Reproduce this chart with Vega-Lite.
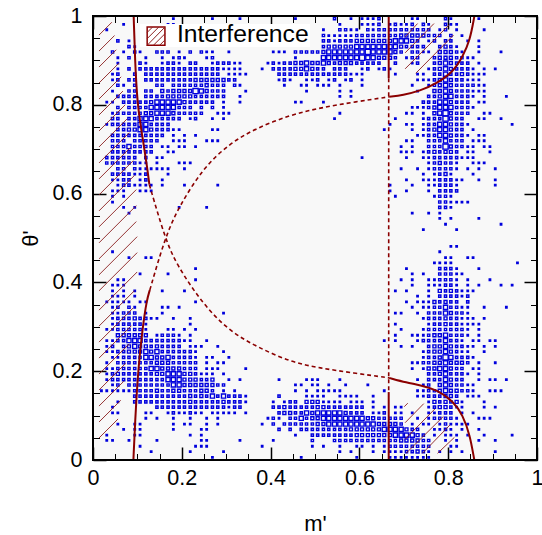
{"$schema":"https://vega.github.io/schema/vega-lite/v6.json","width":444,"height":444,"autosize":"none","padding":{"left":93,"top":16,"right":5,"bottom":75},"background":"white","view":{"fill":"#f8f8f8","stroke":null},
"config":{"axis":{"grid":false,"labels":false,"ticks":true,"tickColor":"black","tickWidth":1,"domain":false,"title":null,"labelFont":"Liberation Sans","titleFont":"Liberation Sans"}},
"resolve":{"axis":{"x":"independent","y":"independent"}},
"layer":[
{"data":{"values":[
{"m":0.181,"t":0.994,"n":1},{"m":0.269,"t":0.994,"n":1},{"m":0.331,"t":0.994,"n":1},{"m":0.456,"t":0.994,"n":1},{"m":0.544,"t":0.994,"n":2},{"m":0.581,"t":0.994,"n":1},{"m":0.606,"t":0.994,"n":1},{"m":0.619,"t":0.994,"n":1},{"m":0.631,"t":0.994,"n":1},{"m":0.644,"t":0.994,"n":2},{"m":0.719,"t":0.994,"n":1},{"m":0.731,"t":0.994,"n":1},{"m":0.794,"t":0.994,"n":2},{"m":0.806,"t":0.994,"n":1},{"m":0.869,"t":0.994,"n":1},
{"m":0.069,"t":0.981,"n":1},{"m":0.169,"t":0.981,"n":1},{"m":0.181,"t":0.981,"n":1},{"m":0.556,"t":0.981,"n":1},{"m":0.606,"t":0.981,"n":1},{"m":0.619,"t":0.981,"n":1},{"m":0.631,"t":0.981,"n":1},{"m":0.644,"t":0.981,"n":2},{"m":0.669,"t":0.981,"n":1},{"m":0.681,"t":0.981,"n":2},{"m":0.694,"t":0.981,"n":1},{"m":0.706,"t":0.981,"n":1},{"m":0.719,"t":0.981,"n":2},{"m":0.744,"t":0.981,"n":2},{"m":0.756,"t":0.981,"n":1},{"m":0.794,"t":0.981,"n":2},{"m":0.806,"t":0.981,"n":1},{"m":0.819,"t":0.981,"n":1},
{"m":0.031,"t":0.969,"n":1},{"m":0.519,"t":0.969,"n":1},{"m":0.556,"t":0.969,"n":2},{"m":0.569,"t":0.969,"n":2},{"m":0.581,"t":0.969,"n":1},{"m":0.594,"t":0.969,"n":1},{"m":0.619,"t":0.969,"n":2},{"m":0.631,"t":0.969,"n":1},{"m":0.644,"t":0.969,"n":2},{"m":0.656,"t":0.969,"n":2},{"m":0.669,"t":0.969,"n":2},{"m":0.681,"t":0.969,"n":2},{"m":0.694,"t":0.969,"n":2},{"m":0.706,"t":0.969,"n":2},{"m":0.719,"t":0.969,"n":2},{"m":0.731,"t":0.969,"n":2},{"m":0.744,"t":0.969,"n":2},{"m":0.756,"t":0.969,"n":2},{"m":0.781,"t":0.969,"n":1},{"m":0.794,"t":0.969,"n":2},{"m":0.819,"t":0.969,"n":1},{"m":0.881,"t":0.969,"n":1},
{"m":0.519,"t":0.956,"n":2},{"m":0.531,"t":0.956,"n":1},{"m":0.544,"t":0.956,"n":1},{"m":0.556,"t":0.956,"n":1},{"m":0.569,"t":0.956,"n":1},{"m":0.581,"t":0.956,"n":1},{"m":0.594,"t":0.956,"n":2},{"m":0.606,"t":0.956,"n":2},{"m":0.619,"t":0.956,"n":2},{"m":0.631,"t":0.956,"n":2},{"m":0.644,"t":0.956,"n":2},{"m":0.656,"t":0.956,"n":2},{"m":0.669,"t":0.956,"n":2},{"m":0.681,"t":0.956,"n":2},{"m":0.694,"t":0.956,"n":3},{"m":0.706,"t":0.956,"n":3},{"m":0.719,"t":0.956,"n":3},{"m":0.731,"t":0.956,"n":3},{"m":0.744,"t":0.956,"n":3},{"m":0.756,"t":0.956,"n":2},{"m":0.769,"t":0.956,"n":2},{"m":0.781,"t":0.956,"n":2},{"m":0.806,"t":0.956,"n":2},{"m":0.831,"t":0.956,"n":1},
{"m":0.056,"t":0.944,"n":2},{"m":0.081,"t":0.944,"n":1},{"m":0.519,"t":0.944,"n":2},{"m":0.531,"t":0.944,"n":2},{"m":0.544,"t":0.944,"n":1},{"m":0.556,"t":0.944,"n":2},{"m":0.569,"t":0.944,"n":2},{"m":0.581,"t":0.944,"n":2},{"m":0.594,"t":0.944,"n":3},{"m":0.606,"t":0.944,"n":3},{"m":0.619,"t":0.944,"n":3},{"m":0.631,"t":0.944,"n":3},{"m":0.644,"t":0.944,"n":3},{"m":0.656,"t":0.944,"n":3},{"m":0.669,"t":0.944,"n":3},{"m":0.681,"t":0.944,"n":4},{"m":0.694,"t":0.944,"n":4},{"m":0.706,"t":0.944,"n":4},{"m":0.719,"t":0.944,"n":3},{"m":0.731,"t":0.944,"n":2},{"m":0.756,"t":0.944,"n":1},{"m":0.769,"t":0.944,"n":2},{"m":0.794,"t":0.944,"n":2},{"m":0.806,"t":0.944,"n":2},{"m":0.844,"t":0.944,"n":1},{"m":0.869,"t":0.944,"n":1},
{"m":0.081,"t":0.931,"n":2},{"m":0.094,"t":0.931,"n":1},{"m":0.519,"t":0.931,"n":2},{"m":0.531,"t":0.931,"n":3},{"m":0.544,"t":0.931,"n":3},{"m":0.556,"t":0.931,"n":3},{"m":0.569,"t":0.931,"n":3},{"m":0.581,"t":0.931,"n":3},{"m":0.594,"t":0.931,"n":4},{"m":0.606,"t":0.931,"n":4},{"m":0.619,"t":0.931,"n":4},{"m":0.631,"t":0.931,"n":4},{"m":0.644,"t":0.931,"n":4},{"m":0.656,"t":0.931,"n":4},{"m":0.669,"t":0.931,"n":4},{"m":0.681,"t":0.931,"n":4},{"m":0.694,"t":0.931,"n":3},{"m":0.706,"t":0.931,"n":2},{"m":0.719,"t":0.931,"n":2},{"m":0.731,"t":0.931,"n":2},{"m":0.744,"t":0.931,"n":2},{"m":0.781,"t":0.931,"n":2},{"m":0.794,"t":0.931,"n":3},{"m":0.806,"t":0.931,"n":2},{"m":0.819,"t":0.931,"n":1},{"m":0.869,"t":0.931,"n":1},
{"m":0.044,"t":0.919,"n":2},{"m":0.069,"t":0.919,"n":1},{"m":0.094,"t":0.919,"n":2},{"m":0.106,"t":0.919,"n":1},{"m":0.144,"t":0.919,"n":2},{"m":0.156,"t":0.919,"n":2},{"m":0.169,"t":0.919,"n":2},{"m":0.194,"t":0.919,"n":1},{"m":0.219,"t":0.919,"n":2},{"m":0.244,"t":0.919,"n":2},{"m":0.256,"t":0.919,"n":1},{"m":0.269,"t":0.919,"n":1},{"m":0.306,"t":0.919,"n":1},{"m":0.406,"t":0.919,"n":1},{"m":0.419,"t":0.919,"n":1},{"m":0.431,"t":0.919,"n":1},{"m":0.456,"t":0.919,"n":2},{"m":0.469,"t":0.919,"n":2},{"m":0.481,"t":0.919,"n":2},{"m":0.494,"t":0.919,"n":2},{"m":0.506,"t":0.919,"n":2},{"m":0.519,"t":0.919,"n":3},{"m":0.531,"t":0.919,"n":4},{"m":0.544,"t":0.919,"n":4},{"m":0.556,"t":0.919,"n":4},{"m":0.569,"t":0.919,"n":4},{"m":0.581,"t":0.919,"n":4},{"m":0.594,"t":0.919,"n":4},{"m":0.606,"t":0.919,"n":4},{"m":0.619,"t":0.919,"n":5},{"m":0.631,"t":0.919,"n":4},{"m":0.644,"t":0.919,"n":4},{"m":0.656,"t":0.919,"n":4},{"m":0.669,"t":0.919,"n":4},{"m":0.681,"t":0.919,"n":3},{"m":0.694,"t":0.919,"n":2},{"m":0.719,"t":0.919,"n":2},{"m":0.731,"t":0.919,"n":2},{"m":0.744,"t":0.919,"n":1},{"m":0.756,"t":0.919,"n":1},{"m":0.781,"t":0.919,"n":3},{"m":0.794,"t":0.919,"n":3},{"m":0.806,"t":0.919,"n":3},{"m":0.819,"t":0.919,"n":2},{"m":0.831,"t":0.919,"n":1},{"m":0.869,"t":0.919,"n":1},{"m":0.919,"t":0.919,"n":1},
{"m":0.056,"t":0.906,"n":1},{"m":0.081,"t":0.906,"n":2},{"m":0.119,"t":0.906,"n":1},{"m":0.156,"t":0.906,"n":1},{"m":0.181,"t":0.906,"n":1},{"m":0.194,"t":0.906,"n":2},{"m":0.206,"t":0.906,"n":1},{"m":0.256,"t":0.906,"n":1},{"m":0.269,"t":0.906,"n":2},{"m":0.456,"t":0.906,"n":1},{"m":0.519,"t":0.906,"n":4},{"m":0.531,"t":0.906,"n":4},{"m":0.544,"t":0.906,"n":4},{"m":0.556,"t":0.906,"n":4},{"m":0.569,"t":0.906,"n":4},{"m":0.581,"t":0.906,"n":4},{"m":0.594,"t":0.906,"n":4},{"m":0.606,"t":0.906,"n":5},{"m":0.619,"t":0.906,"n":4},{"m":0.631,"t":0.906,"n":4},{"m":0.644,"t":0.906,"n":3},{"m":0.656,"t":0.906,"n":3},{"m":0.669,"t":0.906,"n":3},{"m":0.681,"t":0.906,"n":2},{"m":0.706,"t":0.906,"n":1},{"m":0.719,"t":0.906,"n":2},{"m":0.731,"t":0.906,"n":2},{"m":0.769,"t":0.906,"n":2},{"m":0.781,"t":0.906,"n":3},{"m":0.794,"t":0.906,"n":3},{"m":0.806,"t":0.906,"n":3},{"m":0.819,"t":0.906,"n":2},{"m":0.831,"t":0.906,"n":2},{"m":0.844,"t":0.906,"n":1},{"m":0.856,"t":0.906,"n":1},
{"m":0.056,"t":0.894,"n":1},{"m":0.106,"t":0.894,"n":2},{"m":0.119,"t":0.894,"n":1},{"m":0.156,"t":0.894,"n":1},{"m":0.169,"t":0.894,"n":2},{"m":0.181,"t":0.894,"n":2},{"m":0.194,"t":0.894,"n":1},{"m":0.219,"t":0.894,"n":2},{"m":0.231,"t":0.894,"n":2},{"m":0.269,"t":0.894,"n":1},{"m":0.281,"t":0.894,"n":2},{"m":0.294,"t":0.894,"n":2},{"m":0.306,"t":0.894,"n":2},{"m":0.319,"t":0.894,"n":1},{"m":0.331,"t":0.894,"n":1},{"m":0.394,"t":0.894,"n":1},{"m":0.406,"t":0.894,"n":2},{"m":0.419,"t":0.894,"n":1},{"m":0.431,"t":0.894,"n":2},{"m":0.444,"t":0.894,"n":2},{"m":0.456,"t":0.894,"n":3},{"m":0.469,"t":0.894,"n":3},{"m":0.481,"t":0.894,"n":4},{"m":0.494,"t":0.894,"n":3},{"m":0.506,"t":0.894,"n":3},{"m":0.519,"t":0.894,"n":4},{"m":0.531,"t":0.894,"n":3},{"m":0.544,"t":0.894,"n":2},{"m":0.556,"t":0.894,"n":3},{"m":0.569,"t":0.894,"n":3},{"m":0.581,"t":0.894,"n":3},{"m":0.594,"t":0.894,"n":2},{"m":0.606,"t":0.894,"n":2},{"m":0.619,"t":0.894,"n":2},{"m":0.631,"t":0.894,"n":2},{"m":0.644,"t":0.894,"n":2},{"m":0.681,"t":0.894,"n":2},{"m":0.719,"t":0.894,"n":1},{"m":0.731,"t":0.894,"n":2},{"m":0.769,"t":0.894,"n":2},{"m":0.781,"t":0.894,"n":3},{"m":0.794,"t":0.894,"n":4},{"m":0.806,"t":0.894,"n":3},{"m":0.819,"t":0.894,"n":2},{"m":0.831,"t":0.894,"n":2},{"m":0.844,"t":0.894,"n":2},{"m":0.869,"t":0.894,"n":1},
{"m":0.056,"t":0.881,"n":1},{"m":0.081,"t":0.881,"n":2},{"m":0.106,"t":0.881,"n":2},{"m":0.119,"t":0.881,"n":2},{"m":0.131,"t":0.881,"n":2},{"m":0.144,"t":0.881,"n":2},{"m":0.156,"t":0.881,"n":2},{"m":0.169,"t":0.881,"n":2},{"m":0.181,"t":0.881,"n":2},{"m":0.194,"t":0.881,"n":2},{"m":0.206,"t":0.881,"n":2},{"m":0.219,"t":0.881,"n":2},{"m":0.231,"t":0.881,"n":2},{"m":0.244,"t":0.881,"n":2},{"m":0.256,"t":0.881,"n":2},{"m":0.269,"t":0.881,"n":2},{"m":0.281,"t":0.881,"n":2},{"m":0.294,"t":0.881,"n":1},{"m":0.306,"t":0.881,"n":1},{"m":0.319,"t":0.881,"n":1},{"m":0.331,"t":0.881,"n":1},{"m":0.381,"t":0.881,"n":1},{"m":0.406,"t":0.881,"n":2},{"m":0.419,"t":0.881,"n":2},{"m":0.431,"t":0.881,"n":2},{"m":0.444,"t":0.881,"n":2},{"m":0.456,"t":0.881,"n":3},{"m":0.469,"t":0.881,"n":3},{"m":0.481,"t":0.881,"n":4},{"m":0.494,"t":0.881,"n":3},{"m":0.506,"t":0.881,"n":2},{"m":0.519,"t":0.881,"n":2},{"m":0.544,"t":0.881,"n":2},{"m":0.556,"t":0.881,"n":2},{"m":0.569,"t":0.881,"n":2},{"m":0.606,"t":0.881,"n":1},{"m":0.619,"t":0.881,"n":2},{"m":0.644,"t":0.881,"n":1},{"m":0.656,"t":0.881,"n":2},{"m":0.669,"t":0.881,"n":1},{"m":0.756,"t":0.881,"n":1},{"m":0.769,"t":0.881,"n":2},{"m":0.781,"t":0.881,"n":3},{"m":0.794,"t":0.881,"n":4},{"m":0.806,"t":0.881,"n":3},{"m":0.819,"t":0.881,"n":2},{"m":0.831,"t":0.881,"n":2},{"m":0.844,"t":0.881,"n":2},{"m":0.856,"t":0.881,"n":1},{"m":0.881,"t":0.881,"n":1},{"m":0.906,"t":0.881,"n":1},
{"m":0.044,"t":0.869,"n":1},{"m":0.056,"t":0.869,"n":2},{"m":0.094,"t":0.869,"n":2},{"m":0.119,"t":0.869,"n":2},{"m":0.131,"t":0.869,"n":2},{"m":0.144,"t":0.869,"n":2},{"m":0.156,"t":0.869,"n":2},{"m":0.169,"t":0.869,"n":2},{"m":0.181,"t":0.869,"n":2},{"m":0.194,"t":0.869,"n":2},{"m":0.206,"t":0.869,"n":2},{"m":0.219,"t":0.869,"n":2},{"m":0.231,"t":0.869,"n":2},{"m":0.244,"t":0.869,"n":2},{"m":0.256,"t":0.869,"n":2},{"m":0.269,"t":0.869,"n":2},{"m":0.281,"t":0.869,"n":2},{"m":0.306,"t":0.869,"n":1},{"m":0.319,"t":0.869,"n":1},{"m":0.331,"t":0.869,"n":1},{"m":0.344,"t":0.869,"n":1},{"m":0.419,"t":0.869,"n":2},{"m":0.431,"t":0.869,"n":2},{"m":0.444,"t":0.869,"n":2},{"m":0.456,"t":0.869,"n":2},{"m":0.469,"t":0.869,"n":2},{"m":0.481,"t":0.869,"n":2},{"m":0.494,"t":0.869,"n":2},{"m":0.506,"t":0.869,"n":2},{"m":0.519,"t":0.869,"n":2},{"m":0.531,"t":0.869,"n":2},{"m":0.544,"t":0.869,"n":2},{"m":0.556,"t":0.869,"n":2},{"m":0.569,"t":0.869,"n":2},{"m":0.581,"t":0.869,"n":1},{"m":0.594,"t":0.869,"n":1},{"m":0.606,"t":0.869,"n":1},{"m":0.681,"t":0.869,"n":1},{"m":0.731,"t":0.869,"n":1},{"m":0.744,"t":0.869,"n":1},{"m":0.769,"t":0.869,"n":2},{"m":0.781,"t":0.869,"n":2},{"m":0.794,"t":0.869,"n":4},{"m":0.806,"t":0.869,"n":2},{"m":0.819,"t":0.869,"n":2},{"m":0.831,"t":0.869,"n":3},{"m":0.844,"t":0.869,"n":2},{"m":0.856,"t":0.869,"n":1},{"m":0.869,"t":0.869,"n":1},{"m":0.881,"t":0.869,"n":1},
{"m":0.044,"t":0.856,"n":1},{"m":0.056,"t":0.856,"n":2},{"m":0.081,"t":0.856,"n":2},{"m":0.094,"t":0.856,"n":2},{"m":0.119,"t":0.856,"n":2},{"m":0.131,"t":0.856,"n":2},{"m":0.144,"t":0.856,"n":2},{"m":0.156,"t":0.856,"n":2},{"m":0.169,"t":0.856,"n":2},{"m":0.181,"t":0.856,"n":2},{"m":0.194,"t":0.856,"n":2},{"m":0.206,"t":0.856,"n":2},{"m":0.219,"t":0.856,"n":2},{"m":0.231,"t":0.856,"n":3},{"m":0.244,"t":0.856,"n":3},{"m":0.256,"t":0.856,"n":3},{"m":0.269,"t":0.856,"n":3},{"m":0.281,"t":0.856,"n":3},{"m":0.294,"t":0.856,"n":3},{"m":0.306,"t":0.856,"n":2},{"m":0.319,"t":0.856,"n":2},{"m":0.419,"t":0.856,"n":1},{"m":0.431,"t":0.856,"n":2},{"m":0.444,"t":0.856,"n":1},{"m":0.481,"t":0.856,"n":1},{"m":0.494,"t":0.856,"n":1},{"m":0.506,"t":0.856,"n":2},{"m":0.531,"t":0.856,"n":1},{"m":0.544,"t":0.856,"n":2},{"m":0.569,"t":0.856,"n":1},{"m":0.581,"t":0.856,"n":2},{"m":0.606,"t":0.856,"n":1},{"m":0.731,"t":0.856,"n":1},{"m":0.744,"t":0.856,"n":1},{"m":0.756,"t":0.856,"n":1},{"m":0.769,"t":0.856,"n":2},{"m":0.781,"t":0.856,"n":3},{"m":0.794,"t":0.856,"n":4},{"m":0.806,"t":0.856,"n":3},{"m":0.819,"t":0.856,"n":2},{"m":0.831,"t":0.856,"n":2},{"m":0.844,"t":0.856,"n":1},{"m":0.856,"t":0.856,"n":1},{"m":0.869,"t":0.856,"n":1},
{"m":0.056,"t":0.844,"n":2},{"m":0.069,"t":0.844,"n":1},{"m":0.094,"t":0.844,"n":2},{"m":0.144,"t":0.844,"n":2},{"m":0.156,"t":0.844,"n":2},{"m":0.181,"t":0.844,"n":2},{"m":0.194,"t":0.844,"n":2},{"m":0.206,"t":0.844,"n":2},{"m":0.219,"t":0.844,"n":2},{"m":0.231,"t":0.844,"n":2},{"m":0.244,"t":0.844,"n":2},{"m":0.256,"t":0.844,"n":3},{"m":0.269,"t":0.844,"n":2},{"m":0.281,"t":0.844,"n":2},{"m":0.294,"t":0.844,"n":2},{"m":0.319,"t":0.844,"n":2},{"m":0.331,"t":0.844,"n":1},{"m":0.431,"t":0.844,"n":1},{"m":0.469,"t":0.844,"n":1},{"m":0.481,"t":0.844,"n":1},{"m":0.506,"t":0.844,"n":1},{"m":0.519,"t":0.844,"n":1},{"m":0.531,"t":0.844,"n":1},{"m":0.556,"t":0.844,"n":1},{"m":0.606,"t":0.844,"n":1},{"m":0.719,"t":0.844,"n":1},{"m":0.756,"t":0.844,"n":1},{"m":0.769,"t":0.844,"n":2},{"m":0.781,"t":0.844,"n":3},{"m":0.794,"t":0.844,"n":4},{"m":0.806,"t":0.844,"n":3},{"m":0.819,"t":0.844,"n":2},{"m":0.831,"t":0.844,"n":2},{"m":0.844,"t":0.844,"n":2},{"m":0.856,"t":0.844,"n":2},{"m":0.869,"t":0.844,"n":1},{"m":0.881,"t":0.844,"n":1},
{"m":0.044,"t":0.831,"n":1},{"m":0.081,"t":0.831,"n":2},{"m":0.094,"t":0.831,"n":2},{"m":0.119,"t":0.831,"n":2},{"m":0.131,"t":0.831,"n":2},{"m":0.156,"t":0.831,"n":3},{"m":0.169,"t":0.831,"n":2},{"m":0.181,"t":0.831,"n":3},{"m":0.194,"t":0.831,"n":3},{"m":0.206,"t":0.831,"n":3},{"m":0.219,"t":0.831,"n":3},{"m":0.231,"t":0.831,"n":5},{"m":0.244,"t":0.831,"n":4},{"m":0.256,"t":0.831,"n":3},{"m":0.269,"t":0.831,"n":2},{"m":0.281,"t":0.831,"n":2},{"m":0.294,"t":0.831,"n":2},{"m":0.344,"t":0.831,"n":1},{"m":0.481,"t":0.831,"n":1},{"m":0.556,"t":0.831,"n":1},{"m":0.581,"t":0.831,"n":1},{"m":0.731,"t":0.831,"n":1},{"m":0.769,"t":0.831,"n":3},{"m":0.781,"t":0.831,"n":3},{"m":0.794,"t":0.831,"n":4},{"m":0.806,"t":0.831,"n":3},{"m":0.819,"t":0.831,"n":2},{"m":0.831,"t":0.831,"n":2},{"m":0.844,"t":0.831,"n":2},{"m":0.856,"t":0.831,"n":1},{"m":0.869,"t":0.831,"n":1},{"m":0.881,"t":0.831,"n":1},
{"m":0.056,"t":0.819,"n":2},{"m":0.069,"t":0.819,"n":2},{"m":0.081,"t":0.819,"n":2},{"m":0.094,"t":0.819,"n":2},{"m":0.119,"t":0.819,"n":2},{"m":0.131,"t":0.819,"n":2},{"m":0.144,"t":0.819,"n":2},{"m":0.156,"t":0.819,"n":2},{"m":0.169,"t":0.819,"n":3},{"m":0.181,"t":0.819,"n":3},{"m":0.194,"t":0.819,"n":3},{"m":0.206,"t":0.819,"n":3},{"m":0.219,"t":0.819,"n":3},{"m":0.231,"t":0.819,"n":2},{"m":0.244,"t":0.819,"n":2},{"m":0.256,"t":0.819,"n":2},{"m":0.269,"t":0.819,"n":2},{"m":0.281,"t":0.819,"n":2},{"m":0.294,"t":0.819,"n":2},{"m":0.331,"t":0.819,"n":1},{"m":0.556,"t":0.819,"n":1},{"m":0.581,"t":0.819,"n":1},{"m":0.756,"t":0.819,"n":2},{"m":0.769,"t":0.819,"n":2},{"m":0.781,"t":0.819,"n":3},{"m":0.794,"t":0.819,"n":4},{"m":0.806,"t":0.819,"n":4},{"m":0.819,"t":0.819,"n":2},{"m":0.831,"t":0.819,"n":2},{"m":0.844,"t":0.819,"n":2},{"m":0.856,"t":0.819,"n":1},{"m":0.881,"t":0.819,"n":1},{"m":0.931,"t":0.819,"n":1},
{"m":0.031,"t":0.806,"n":1},{"m":0.044,"t":0.806,"n":1},{"m":0.069,"t":0.806,"n":2},{"m":0.081,"t":0.806,"n":2},{"m":0.094,"t":0.806,"n":2},{"m":0.106,"t":0.806,"n":2},{"m":0.119,"t":0.806,"n":2},{"m":0.131,"t":0.806,"n":3},{"m":0.144,"t":0.806,"n":4},{"m":0.156,"t":0.806,"n":4},{"m":0.169,"t":0.806,"n":4},{"m":0.181,"t":0.806,"n":4},{"m":0.194,"t":0.806,"n":4},{"m":0.206,"t":0.806,"n":3},{"m":0.219,"t":0.806,"n":2},{"m":0.231,"t":0.806,"n":2},{"m":0.244,"t":0.806,"n":2},{"m":0.256,"t":0.806,"n":2},{"m":0.269,"t":0.806,"n":2},{"m":0.294,"t":0.806,"n":1},{"m":0.331,"t":0.806,"n":1},{"m":0.456,"t":0.806,"n":1},{"m":0.469,"t":0.806,"n":1},{"m":0.519,"t":0.806,"n":1},{"m":0.744,"t":0.806,"n":2},{"m":0.756,"t":0.806,"n":2},{"m":0.769,"t":0.806,"n":2},{"m":0.781,"t":0.806,"n":4},{"m":0.794,"t":0.806,"n":4},{"m":0.806,"t":0.806,"n":3},{"m":0.819,"t":0.806,"n":2},{"m":0.831,"t":0.806,"n":2},{"m":0.844,"t":0.806,"n":2},{"m":0.869,"t":0.806,"n":1},{"m":0.881,"t":0.806,"n":1},
{"m":0.056,"t":0.794,"n":2},{"m":0.081,"t":0.794,"n":2},{"m":0.094,"t":0.794,"n":2},{"m":0.106,"t":0.794,"n":2},{"m":0.119,"t":0.794,"n":2},{"m":0.131,"t":0.794,"n":4},{"m":0.144,"t":0.794,"n":4},{"m":0.156,"t":0.794,"n":4},{"m":0.169,"t":0.794,"n":4},{"m":0.181,"t":0.794,"n":4},{"m":0.194,"t":0.794,"n":2},{"m":0.206,"t":0.794,"n":2},{"m":0.219,"t":0.794,"n":2},{"m":0.244,"t":0.794,"n":2},{"m":0.269,"t":0.794,"n":2},{"m":0.294,"t":0.794,"n":1},{"m":0.719,"t":0.794,"n":1},{"m":0.731,"t":0.794,"n":1},{"m":0.744,"t":0.794,"n":1},{"m":0.756,"t":0.794,"n":2},{"m":0.769,"t":0.794,"n":3},{"m":0.781,"t":0.794,"n":4},{"m":0.794,"t":0.794,"n":4},{"m":0.806,"t":0.794,"n":4},{"m":0.819,"t":0.794,"n":2},{"m":0.831,"t":0.794,"n":2},{"m":0.844,"t":0.794,"n":2},{"m":0.856,"t":0.794,"n":1},
{"m":0.044,"t":0.781,"n":1},{"m":0.056,"t":0.781,"n":2},{"m":0.069,"t":0.781,"n":2},{"m":0.081,"t":0.781,"n":2},{"m":0.094,"t":0.781,"n":2},{"m":0.106,"t":0.781,"n":2},{"m":0.119,"t":0.781,"n":3},{"m":0.131,"t":0.781,"n":3},{"m":0.144,"t":0.781,"n":4},{"m":0.156,"t":0.781,"n":4},{"m":0.169,"t":0.781,"n":4},{"m":0.181,"t":0.781,"n":3},{"m":0.194,"t":0.781,"n":2},{"m":0.206,"t":0.781,"n":2},{"m":0.219,"t":0.781,"n":2},{"m":0.231,"t":0.781,"n":2},{"m":0.244,"t":0.781,"n":2},{"m":0.281,"t":0.781,"n":1},{"m":0.294,"t":0.781,"n":1},{"m":0.306,"t":0.781,"n":1},{"m":0.556,"t":0.781,"n":1},{"m":0.706,"t":0.781,"n":1},{"m":0.719,"t":0.781,"n":1},{"m":0.744,"t":0.781,"n":1},{"m":0.769,"t":0.781,"n":3},{"m":0.781,"t":0.781,"n":4},{"m":0.794,"t":0.781,"n":5},{"m":0.806,"t":0.781,"n":3},{"m":0.819,"t":0.781,"n":2},{"m":0.831,"t":0.781,"n":2},{"m":0.844,"t":0.781,"n":2},{"m":0.881,"t":0.781,"n":1},{"m":0.894,"t":0.781,"n":1},
{"m":0.044,"t":0.769,"n":2},{"m":0.056,"t":0.769,"n":2},{"m":0.081,"t":0.769,"n":2},{"m":0.094,"t":0.769,"n":2},{"m":0.106,"t":0.769,"n":4},{"m":0.119,"t":0.769,"n":4},{"m":0.131,"t":0.769,"n":4},{"m":0.144,"t":0.769,"n":2},{"m":0.156,"t":0.769,"n":2},{"m":0.169,"t":0.769,"n":2},{"m":0.181,"t":0.769,"n":2},{"m":0.194,"t":0.769,"n":2},{"m":0.219,"t":0.769,"n":1},{"m":0.231,"t":0.769,"n":2},{"m":0.269,"t":0.769,"n":1},{"m":0.294,"t":0.769,"n":1},{"m":0.544,"t":0.769,"n":1},{"m":0.681,"t":0.769,"n":1},{"m":0.744,"t":0.769,"n":1},{"m":0.756,"t":0.769,"n":2},{"m":0.769,"t":0.769,"n":2},{"m":0.781,"t":0.769,"n":2},{"m":0.794,"t":0.769,"n":5},{"m":0.806,"t":0.769,"n":3},{"m":0.819,"t":0.769,"n":2},{"m":0.831,"t":0.769,"n":2},{"m":0.869,"t":0.769,"n":1},{"m":0.881,"t":0.769,"n":1},{"m":0.919,"t":0.769,"n":1},
{"m":0.031,"t":0.756,"n":1},{"m":0.044,"t":0.756,"n":2},{"m":0.056,"t":0.756,"n":2},{"m":0.069,"t":0.756,"n":2},{"m":0.081,"t":0.756,"n":2},{"m":0.094,"t":0.756,"n":2},{"m":0.106,"t":0.756,"n":4},{"m":0.119,"t":0.756,"n":4},{"m":0.131,"t":0.756,"n":2},{"m":0.144,"t":0.756,"n":2},{"m":0.156,"t":0.756,"n":2},{"m":0.169,"t":0.756,"n":2},{"m":0.669,"t":0.756,"n":1},{"m":0.706,"t":0.756,"n":1},{"m":0.719,"t":0.756,"n":1},{"m":0.744,"t":0.756,"n":1},{"m":0.756,"t":0.756,"n":2},{"m":0.769,"t":0.756,"n":2},{"m":0.781,"t":0.756,"n":4},{"m":0.794,"t":0.756,"n":4},{"m":0.806,"t":0.756,"n":3},{"m":0.819,"t":0.756,"n":2},{"m":0.831,"t":0.756,"n":2},{"m":0.844,"t":0.756,"n":1},{"m":0.944,"t":0.756,"n":1},
{"m":0.056,"t":0.744,"n":2},{"m":0.069,"t":0.744,"n":2},{"m":0.081,"t":0.744,"n":3},{"m":0.094,"t":0.744,"n":3},{"m":0.106,"t":0.744,"n":4},{"m":0.119,"t":0.744,"n":4},{"m":0.131,"t":0.744,"n":3},{"m":0.144,"t":0.744,"n":2},{"m":0.156,"t":0.744,"n":2},{"m":0.169,"t":0.744,"n":2},{"m":0.181,"t":0.744,"n":1},{"m":0.194,"t":0.744,"n":1},{"m":0.269,"t":0.744,"n":1},{"m":0.281,"t":0.744,"n":1},{"m":0.656,"t":0.744,"n":1},{"m":0.719,"t":0.744,"n":1},{"m":0.744,"t":0.744,"n":1},{"m":0.756,"t":0.744,"n":2},{"m":0.769,"t":0.744,"n":3},{"m":0.781,"t":0.744,"n":4},{"m":0.794,"t":0.744,"n":4},{"m":0.806,"t":0.744,"n":3},{"m":0.819,"t":0.744,"n":2},{"m":0.831,"t":0.744,"n":2},{"m":0.856,"t":0.744,"n":1},
{"m":0.044,"t":0.731,"n":2},{"m":0.056,"t":0.731,"n":2},{"m":0.069,"t":0.731,"n":2},{"m":0.081,"t":0.731,"n":2},{"m":0.094,"t":0.731,"n":2},{"m":0.106,"t":0.731,"n":2},{"m":0.119,"t":0.731,"n":2},{"m":0.131,"t":0.731,"n":2},{"m":0.144,"t":0.731,"n":2},{"m":0.156,"t":0.731,"n":2},{"m":0.181,"t":0.731,"n":1},{"m":0.206,"t":0.731,"n":1},{"m":0.231,"t":0.731,"n":1},{"m":0.731,"t":0.731,"n":1},{"m":0.744,"t":0.731,"n":1},{"m":0.756,"t":0.731,"n":2},{"m":0.769,"t":0.731,"n":2},{"m":0.781,"t":0.731,"n":4},{"m":0.794,"t":0.731,"n":4},{"m":0.806,"t":0.731,"n":3},{"m":0.819,"t":0.731,"n":2},{"m":0.831,"t":0.731,"n":2},{"m":0.844,"t":0.731,"n":1},{"m":0.869,"t":0.731,"n":1},{"m":0.881,"t":0.731,"n":1},
{"m":0.044,"t":0.719,"n":2},{"m":0.056,"t":0.719,"n":2},{"m":0.069,"t":0.719,"n":2},{"m":0.094,"t":0.719,"n":2},{"m":0.106,"t":0.719,"n":2},{"m":0.119,"t":0.719,"n":2},{"m":0.131,"t":0.719,"n":2},{"m":0.144,"t":0.719,"n":2},{"m":0.181,"t":0.719,"n":1},{"m":0.194,"t":0.719,"n":1},{"m":0.206,"t":0.719,"n":1},{"m":0.256,"t":0.719,"n":1},{"m":0.269,"t":0.719,"n":1},{"m":0.281,"t":0.719,"n":1},{"m":0.706,"t":0.719,"n":1},{"m":0.719,"t":0.719,"n":1},{"m":0.756,"t":0.719,"n":2},{"m":0.769,"t":0.719,"n":2},{"m":0.781,"t":0.719,"n":2},{"m":0.794,"t":0.719,"n":4},{"m":0.806,"t":0.719,"n":2},{"m":0.819,"t":0.719,"n":2},{"m":0.831,"t":0.719,"n":2},{"m":0.856,"t":0.719,"n":1},{"m":0.869,"t":0.719,"n":1},{"m":0.881,"t":0.719,"n":1},
{"m":0.044,"t":0.706,"n":2},{"m":0.056,"t":0.706,"n":2},{"m":0.069,"t":0.706,"n":2},{"m":0.081,"t":0.706,"n":4},{"m":0.094,"t":0.706,"n":2},{"m":0.106,"t":0.706,"n":2},{"m":0.119,"t":0.706,"n":2},{"m":0.131,"t":0.706,"n":2},{"m":0.156,"t":0.706,"n":1},{"m":0.169,"t":0.706,"n":1},{"m":0.194,"t":0.706,"n":1},{"m":0.206,"t":0.706,"n":1},{"m":0.231,"t":0.706,"n":1},{"m":0.694,"t":0.706,"n":1},{"m":0.719,"t":0.706,"n":1},{"m":0.756,"t":0.706,"n":2},{"m":0.769,"t":0.706,"n":2},{"m":0.781,"t":0.706,"n":2},{"m":0.794,"t":0.706,"n":5},{"m":0.806,"t":0.706,"n":3},{"m":0.819,"t":0.706,"n":2},{"m":0.831,"t":0.706,"n":2},{"m":0.844,"t":0.706,"n":1},{"m":0.856,"t":0.706,"n":1},{"m":0.881,"t":0.706,"n":1},{"m":0.894,"t":0.706,"n":1},
{"m":0.044,"t":0.694,"n":2},{"m":0.056,"t":0.694,"n":2},{"m":0.069,"t":0.694,"n":2},{"m":0.081,"t":0.694,"n":2},{"m":0.094,"t":0.694,"n":2},{"m":0.106,"t":0.694,"n":2},{"m":0.119,"t":0.694,"n":2},{"m":0.131,"t":0.694,"n":2},{"m":0.169,"t":0.694,"n":1},{"m":0.181,"t":0.694,"n":1},{"m":0.694,"t":0.694,"n":1},{"m":0.706,"t":0.694,"n":1},{"m":0.719,"t":0.694,"n":1},{"m":0.744,"t":0.694,"n":1},{"m":0.756,"t":0.694,"n":2},{"m":0.769,"t":0.694,"n":3},{"m":0.781,"t":0.694,"n":2},{"m":0.794,"t":0.694,"n":3},{"m":0.806,"t":0.694,"n":3},{"m":0.819,"t":0.694,"n":2},{"m":0.844,"t":0.694,"n":1},{"m":0.856,"t":0.694,"n":1},{"m":0.894,"t":0.694,"n":1},
{"m":0.031,"t":0.681,"n":2},{"m":0.044,"t":0.681,"n":2},{"m":0.056,"t":0.681,"n":2},{"m":0.069,"t":0.681,"n":2},{"m":0.081,"t":0.681,"n":2},{"m":0.094,"t":0.681,"n":2},{"m":0.119,"t":0.681,"n":2},{"m":0.144,"t":0.681,"n":1},{"m":0.156,"t":0.681,"n":1},{"m":0.606,"t":0.681,"n":1},{"m":0.706,"t":0.681,"n":1},{"m":0.744,"t":0.681,"n":1},{"m":0.756,"t":0.681,"n":1},{"m":0.769,"t":0.681,"n":2},{"m":0.781,"t":0.681,"n":2},{"m":0.794,"t":0.681,"n":2},{"m":0.806,"t":0.681,"n":2},{"m":0.819,"t":0.681,"n":2},{"m":0.831,"t":0.681,"n":1},{"m":0.844,"t":0.681,"n":1},{"m":0.856,"t":0.681,"n":1},
{"m":0.031,"t":0.669,"n":2},{"m":0.044,"t":0.669,"n":2},{"m":0.056,"t":0.669,"n":2},{"m":0.069,"t":0.669,"n":2},{"m":0.081,"t":0.669,"n":2},{"m":0.094,"t":0.669,"n":2},{"m":0.106,"t":0.669,"n":1},{"m":0.119,"t":0.669,"n":1},{"m":0.144,"t":0.669,"n":1},{"m":0.194,"t":0.669,"n":1},{"m":0.206,"t":0.669,"n":1},{"m":0.219,"t":0.669,"n":1},{"m":0.756,"t":0.669,"n":1},{"m":0.769,"t":0.669,"n":2},{"m":0.781,"t":0.669,"n":3},{"m":0.794,"t":0.669,"n":2},{"m":0.806,"t":0.669,"n":2},{"m":0.819,"t":0.669,"n":1},{"m":0.856,"t":0.669,"n":1},{"m":0.869,"t":0.669,"n":1},{"m":0.881,"t":0.669,"n":1},
{"m":0.056,"t":0.656,"n":2},{"m":0.069,"t":0.656,"n":2},{"m":0.094,"t":0.656,"n":2},{"m":0.106,"t":0.656,"n":1},{"m":0.119,"t":0.656,"n":1},{"m":0.131,"t":0.656,"n":1},{"m":0.144,"t":0.656,"n":1},{"m":0.156,"t":0.656,"n":1},{"m":0.169,"t":0.656,"n":1},{"m":0.206,"t":0.656,"n":1},{"m":0.694,"t":0.656,"n":1},{"m":0.731,"t":0.656,"n":1},{"m":0.756,"t":0.656,"n":1},{"m":0.769,"t":0.656,"n":2},{"m":0.781,"t":0.656,"n":2},{"m":0.794,"t":0.656,"n":2},{"m":0.806,"t":0.656,"n":2},{"m":0.819,"t":0.656,"n":1},{"m":0.844,"t":0.656,"n":1},{"m":0.869,"t":0.656,"n":1},{"m":0.906,"t":0.656,"n":1},
{"m":0.044,"t":0.644,"n":2},{"m":0.056,"t":0.644,"n":2},{"m":0.069,"t":0.644,"n":2},{"m":0.081,"t":0.644,"n":2},{"m":0.094,"t":0.644,"n":1},{"m":0.106,"t":0.644,"n":1},{"m":0.119,"t":0.644,"n":2},{"m":0.169,"t":0.644,"n":1},{"m":0.744,"t":0.644,"n":1},{"m":0.769,"t":0.644,"n":1},{"m":0.781,"t":0.644,"n":2},{"m":0.794,"t":0.644,"n":3},{"m":0.806,"t":0.644,"n":1},{"m":0.856,"t":0.644,"n":1},
{"m":0.044,"t":0.631,"n":1},{"m":0.056,"t":0.631,"n":1},{"m":0.069,"t":0.631,"n":2},{"m":0.081,"t":0.631,"n":2},{"m":0.106,"t":0.631,"n":1},{"m":0.119,"t":0.631,"n":2},{"m":0.156,"t":0.631,"n":1},{"m":0.706,"t":0.631,"n":1},{"m":0.744,"t":0.631,"n":1},{"m":0.756,"t":0.631,"n":1},{"m":0.769,"t":0.631,"n":1},{"m":0.781,"t":0.631,"n":2},{"m":0.794,"t":0.631,"n":2},{"m":0.806,"t":0.631,"n":2},{"m":0.819,"t":0.631,"n":1},{"m":0.831,"t":0.631,"n":1},{"m":0.869,"t":0.631,"n":1},{"m":0.906,"t":0.631,"n":1},
{"m":0.056,"t":0.619,"n":1},{"m":0.069,"t":0.619,"n":2},{"m":0.081,"t":0.619,"n":2},{"m":0.094,"t":0.619,"n":1},{"m":0.106,"t":0.619,"n":1},{"m":0.119,"t":0.619,"n":1},{"m":0.131,"t":0.619,"n":1},{"m":0.156,"t":0.619,"n":1},{"m":0.206,"t":0.619,"n":1},{"m":0.281,"t":0.619,"n":1},{"m":0.669,"t":0.619,"n":1},{"m":0.719,"t":0.619,"n":1},{"m":0.756,"t":0.619,"n":1},{"m":0.769,"t":0.619,"n":1},{"m":0.781,"t":0.619,"n":2},{"m":0.794,"t":0.619,"n":2},{"m":0.806,"t":0.619,"n":2},{"m":0.819,"t":0.619,"n":1},{"m":0.906,"t":0.619,"n":1},
{"m":0.044,"t":0.606,"n":1},{"m":0.056,"t":0.606,"n":1},{"m":0.069,"t":0.606,"n":1},{"m":0.106,"t":0.606,"n":1},{"m":0.119,"t":0.606,"n":1},{"m":0.131,"t":0.606,"n":1},{"m":0.669,"t":0.606,"n":1},{"m":0.706,"t":0.606,"n":1},{"m":0.756,"t":0.606,"n":1},{"m":0.781,"t":0.606,"n":2},{"m":0.794,"t":0.606,"n":2},{"m":0.806,"t":0.606,"n":2},{"m":0.819,"t":0.606,"n":2},
{"m":0.044,"t":0.594,"n":1},{"m":0.069,"t":0.594,"n":1},{"m":0.681,"t":0.594,"n":1},{"m":0.769,"t":0.594,"n":1},{"m":0.781,"t":0.594,"n":2},{"m":0.794,"t":0.594,"n":2},{"m":0.806,"t":0.594,"n":1},
{"m":0.044,"t":0.581,"n":1},{"m":0.781,"t":0.581,"n":2},{"m":0.794,"t":0.581,"n":2},{"m":0.806,"t":0.581,"n":1},{"m":0.819,"t":0.581,"n":1},{"m":0.831,"t":0.581,"n":1},{"m":0.844,"t":0.581,"n":1},
{"m":0.069,"t":0.569,"n":1},{"m":0.094,"t":0.569,"n":1},{"m":0.194,"t":0.569,"n":1},{"m":0.256,"t":0.569,"n":1},{"m":0.781,"t":0.569,"n":2},{"m":0.794,"t":0.569,"n":2},{"m":0.806,"t":0.569,"n":1},
{"m":0.081,"t":0.556,"n":1},{"m":0.719,"t":0.556,"n":1},{"m":0.756,"t":0.556,"n":1},{"m":0.781,"t":0.556,"n":1},
{"m":0.781,"t":0.544,"n":1},{"m":0.806,"t":0.544,"n":1},{"m":0.869,"t":0.544,"n":1},
{"m":0.794,"t":0.531,"n":1},{"m":0.919,"t":0.531,"n":1},
{"m":0.744,"t":0.519,"n":1},{"m":0.819,"t":0.519,"n":1},
{"m":0.806,"t":0.481,"n":1},{"m":0.819,"t":0.481,"n":1},
{"m":0.044,"t":0.469,"n":1},{"m":0.781,"t":0.469,"n":1},
{"m":0.081,"t":0.456,"n":1},{"m":0.119,"t":0.456,"n":1},{"m":0.131,"t":0.456,"n":1},{"m":0.794,"t":0.456,"n":1},{"m":0.806,"t":0.456,"n":1},{"m":0.844,"t":0.456,"n":1},{"m":0.856,"t":0.456,"n":1},
{"m":0.769,"t":0.444,"n":1},{"m":0.781,"t":0.444,"n":1},{"m":0.794,"t":0.444,"n":1},{"m":0.806,"t":0.444,"n":1},{"m":0.956,"t":0.444,"n":1},
{"m":0.231,"t":0.431,"n":1},{"m":0.706,"t":0.431,"n":1},{"m":0.781,"t":0.431,"n":2},{"m":0.794,"t":0.431,"n":2},{"m":0.806,"t":0.431,"n":2},{"m":0.819,"t":0.431,"n":1},{"m":0.869,"t":0.431,"n":1},
{"m":0.106,"t":0.419,"n":1},{"m":0.169,"t":0.419,"n":1},{"m":0.719,"t":0.419,"n":1},{"m":0.744,"t":0.419,"n":1},{"m":0.781,"t":0.419,"n":2},{"m":0.794,"t":0.419,"n":2},{"m":0.806,"t":0.419,"n":2},{"m":0.819,"t":0.419,"n":1},{"m":0.831,"t":0.419,"n":1},
{"m":0.056,"t":0.406,"n":1},{"m":0.069,"t":0.406,"n":1},{"m":0.231,"t":0.406,"n":1},{"m":0.694,"t":0.406,"n":1},{"m":0.719,"t":0.406,"n":1},{"m":0.756,"t":0.406,"n":1},{"m":0.769,"t":0.406,"n":1},{"m":0.781,"t":0.406,"n":2},{"m":0.794,"t":0.406,"n":2},{"m":0.806,"t":0.406,"n":2},{"m":0.819,"t":0.406,"n":1},{"m":0.844,"t":0.406,"n":1},{"m":0.894,"t":0.406,"n":1},
{"m":0.044,"t":0.394,"n":1},{"m":0.056,"t":0.394,"n":1},{"m":0.069,"t":0.394,"n":1},{"m":0.719,"t":0.394,"n":1},{"m":0.756,"t":0.394,"n":1},{"m":0.769,"t":0.394,"n":1},{"m":0.781,"t":0.394,"n":1},{"m":0.794,"t":0.394,"n":2},{"m":0.806,"t":0.394,"n":2},{"m":0.819,"t":0.394,"n":1},{"m":0.844,"t":0.394,"n":1},{"m":0.869,"t":0.394,"n":1},{"m":0.919,"t":0.394,"n":1},{"m":0.944,"t":0.394,"n":1},
{"m":0.044,"t":0.381,"n":1},{"m":0.069,"t":0.381,"n":1},{"m":0.094,"t":0.381,"n":1},{"m":0.156,"t":0.381,"n":1},{"m":0.206,"t":0.381,"n":1},{"m":0.681,"t":0.381,"n":1},{"m":0.706,"t":0.381,"n":1},{"m":0.756,"t":0.381,"n":1},{"m":0.781,"t":0.381,"n":3},{"m":0.794,"t":0.381,"n":2},{"m":0.806,"t":0.381,"n":3},{"m":0.819,"t":0.381,"n":2},{"m":0.831,"t":0.381,"n":1},{"m":0.844,"t":0.381,"n":1},{"m":0.856,"t":0.381,"n":1},
{"m":0.044,"t":0.369,"n":1},{"m":0.056,"t":0.369,"n":1},{"m":0.069,"t":0.369,"n":1},{"m":0.094,"t":0.369,"n":1},{"m":0.731,"t":0.369,"n":1},{"m":0.756,"t":0.369,"n":1},{"m":0.781,"t":0.369,"n":2},{"m":0.794,"t":0.369,"n":2},{"m":0.806,"t":0.369,"n":2},{"m":0.819,"t":0.369,"n":2},{"m":0.831,"t":0.369,"n":1},{"m":0.844,"t":0.369,"n":2},
{"m":0.031,"t":0.356,"n":1},{"m":0.044,"t":0.356,"n":1},{"m":0.056,"t":0.356,"n":1},{"m":0.069,"t":0.356,"n":1},{"m":0.081,"t":0.356,"n":1},{"m":0.106,"t":0.356,"n":1},{"m":0.119,"t":0.356,"n":1},{"m":0.231,"t":0.356,"n":1},{"m":0.706,"t":0.356,"n":1},{"m":0.731,"t":0.356,"n":1},{"m":0.744,"t":0.356,"n":1},{"m":0.756,"t":0.356,"n":1},{"m":0.769,"t":0.356,"n":3},{"m":0.781,"t":0.356,"n":2},{"m":0.794,"t":0.356,"n":3},{"m":0.806,"t":0.356,"n":2},{"m":0.819,"t":0.356,"n":2},{"m":0.844,"t":0.356,"n":2},
{"m":0.044,"t":0.344,"n":1},{"m":0.056,"t":0.344,"n":2},{"m":0.081,"t":0.344,"n":2},{"m":0.094,"t":0.344,"n":1},{"m":0.156,"t":0.344,"n":1},{"m":0.169,"t":0.344,"n":1},{"m":0.194,"t":0.344,"n":1},{"m":0.719,"t":0.344,"n":1},{"m":0.744,"t":0.344,"n":1},{"m":0.756,"t":0.344,"n":1},{"m":0.769,"t":0.344,"n":2},{"m":0.781,"t":0.344,"n":2},{"m":0.794,"t":0.344,"n":4},{"m":0.806,"t":0.344,"n":2},{"m":0.819,"t":0.344,"n":2},{"m":0.831,"t":0.344,"n":1},{"m":0.844,"t":0.344,"n":1},{"m":0.881,"t":0.344,"n":1},{"m":0.931,"t":0.344,"n":1},
{"m":0.044,"t":0.331,"n":1},{"m":0.056,"t":0.331,"n":1},{"m":0.069,"t":0.331,"n":2},{"m":0.081,"t":0.331,"n":2},{"m":0.094,"t":0.331,"n":2},{"m":0.119,"t":0.331,"n":1},{"m":0.156,"t":0.331,"n":1},{"m":0.294,"t":0.331,"n":1},{"m":0.681,"t":0.331,"n":1},{"m":0.694,"t":0.331,"n":1},{"m":0.731,"t":0.331,"n":1},{"m":0.756,"t":0.331,"n":2},{"m":0.769,"t":0.331,"n":2},{"m":0.781,"t":0.331,"n":2},{"m":0.794,"t":0.331,"n":4},{"m":0.806,"t":0.331,"n":3},{"m":0.819,"t":0.331,"n":2},{"m":0.831,"t":0.331,"n":2},{"m":0.844,"t":0.331,"n":1},
{"m":0.044,"t":0.319,"n":1},{"m":0.056,"t":0.319,"n":2},{"m":0.069,"t":0.319,"n":2},{"m":0.081,"t":0.319,"n":2},{"m":0.094,"t":0.319,"n":3},{"m":0.106,"t":0.319,"n":2},{"m":0.119,"t":0.319,"n":2},{"m":0.131,"t":0.319,"n":1},{"m":0.144,"t":0.319,"n":1},{"m":0.181,"t":0.319,"n":1},{"m":0.219,"t":0.319,"n":1},{"m":0.744,"t":0.319,"n":1},{"m":0.756,"t":0.319,"n":2},{"m":0.769,"t":0.319,"n":2},{"m":0.781,"t":0.319,"n":2},{"m":0.794,"t":0.319,"n":3},{"m":0.806,"t":0.319,"n":2},{"m":0.819,"t":0.319,"n":2},{"m":0.831,"t":0.319,"n":1},{"m":0.844,"t":0.319,"n":1},{"m":0.856,"t":0.319,"n":1},{"m":0.881,"t":0.319,"n":1},
{"m":0.044,"t":0.306,"n":1},{"m":0.056,"t":0.306,"n":2},{"m":0.069,"t":0.306,"n":2},{"m":0.081,"t":0.306,"n":2},{"m":0.094,"t":0.306,"n":2},{"m":0.106,"t":0.306,"n":2},{"m":0.119,"t":0.306,"n":1},{"m":0.219,"t":0.306,"n":1},{"m":0.681,"t":0.306,"n":1},{"m":0.756,"t":0.306,"n":1},{"m":0.769,"t":0.306,"n":2},{"m":0.781,"t":0.306,"n":2},{"m":0.794,"t":0.306,"n":3},{"m":0.806,"t":0.306,"n":2},{"m":0.819,"t":0.306,"n":2},{"m":0.831,"t":0.306,"n":1},{"m":0.844,"t":0.306,"n":1},{"m":0.856,"t":0.306,"n":1},{"m":0.869,"t":0.306,"n":1},
{"m":0.031,"t":0.294,"n":1},{"m":0.044,"t":0.294,"n":1},{"m":0.056,"t":0.294,"n":2},{"m":0.069,"t":0.294,"n":2},{"m":0.081,"t":0.294,"n":2},{"m":0.094,"t":0.294,"n":2},{"m":0.106,"t":0.294,"n":2},{"m":0.119,"t":0.294,"n":1},{"m":0.169,"t":0.294,"n":1},{"m":0.181,"t":0.294,"n":1},{"m":0.206,"t":0.294,"n":1},{"m":0.231,"t":0.294,"n":1},{"m":0.694,"t":0.294,"n":1},{"m":0.744,"t":0.294,"n":1},{"m":0.756,"t":0.294,"n":2},{"m":0.769,"t":0.294,"n":2},{"m":0.781,"t":0.294,"n":2},{"m":0.794,"t":0.294,"n":2},{"m":0.806,"t":0.294,"n":2},{"m":0.819,"t":0.294,"n":2},{"m":0.831,"t":0.294,"n":2},{"m":0.844,"t":0.294,"n":1},{"m":0.869,"t":0.294,"n":1},
{"m":0.056,"t":0.281,"n":3},{"m":0.069,"t":0.281,"n":3},{"m":0.081,"t":0.281,"n":3},{"m":0.094,"t":0.281,"n":3},{"m":0.106,"t":0.281,"n":3},{"m":0.119,"t":0.281,"n":3},{"m":0.144,"t":0.281,"n":1},{"m":0.156,"t":0.281,"n":2},{"m":0.169,"t":0.281,"n":2},{"m":0.181,"t":0.281,"n":2},{"m":0.194,"t":0.281,"n":1},{"m":0.219,"t":0.281,"n":1},{"m":0.681,"t":0.281,"n":1},{"m":0.719,"t":0.281,"n":1},{"m":0.731,"t":0.281,"n":1},{"m":0.744,"t":0.281,"n":1},{"m":0.756,"t":0.281,"n":2},{"m":0.769,"t":0.281,"n":3},{"m":0.781,"t":0.281,"n":3},{"m":0.794,"t":0.281,"n":4},{"m":0.806,"t":0.281,"n":2},{"m":0.819,"t":0.281,"n":2},{"m":0.831,"t":0.281,"n":2},{"m":0.844,"t":0.281,"n":1},{"m":0.869,"t":0.281,"n":1},
{"m":0.031,"t":0.269,"n":1},{"m":0.044,"t":0.269,"n":1},{"m":0.056,"t":0.269,"n":2},{"m":0.069,"t":0.269,"n":2},{"m":0.081,"t":0.269,"n":4},{"m":0.094,"t":0.269,"n":4},{"m":0.106,"t":0.269,"n":4},{"m":0.119,"t":0.269,"n":2},{"m":0.131,"t":0.269,"n":2},{"m":0.144,"t":0.269,"n":2},{"m":0.156,"t":0.269,"n":2},{"m":0.169,"t":0.269,"n":2},{"m":0.181,"t":0.269,"n":2},{"m":0.194,"t":0.269,"n":2},{"m":0.206,"t":0.269,"n":1},{"m":0.219,"t":0.269,"n":1},{"m":0.256,"t":0.269,"n":1},{"m":0.656,"t":0.269,"n":1},{"m":0.681,"t":0.269,"n":1},{"m":0.731,"t":0.269,"n":1},{"m":0.744,"t":0.269,"n":2},{"m":0.756,"t":0.269,"n":2},{"m":0.769,"t":0.269,"n":2},{"m":0.781,"t":0.269,"n":2},{"m":0.794,"t":0.269,"n":4},{"m":0.806,"t":0.269,"n":2},{"m":0.819,"t":0.269,"n":2},{"m":0.831,"t":0.269,"n":1},{"m":0.856,"t":0.269,"n":1},{"m":0.869,"t":0.269,"n":1},{"m":0.894,"t":0.269,"n":1},{"m":0.906,"t":0.269,"n":1},
{"m":0.031,"t":0.256,"n":1},{"m":0.044,"t":0.256,"n":2},{"m":0.069,"t":0.256,"n":2},{"m":0.081,"t":0.256,"n":3},{"m":0.094,"t":0.256,"n":4},{"m":0.106,"t":0.256,"n":3},{"m":0.119,"t":0.256,"n":3},{"m":0.131,"t":0.256,"n":2},{"m":0.144,"t":0.256,"n":3},{"m":0.156,"t":0.256,"n":2},{"m":0.169,"t":0.256,"n":2},{"m":0.181,"t":0.256,"n":2},{"m":0.194,"t":0.256,"n":2},{"m":0.219,"t":0.256,"n":1},{"m":0.231,"t":0.256,"n":1},{"m":0.244,"t":0.256,"n":1},{"m":0.281,"t":0.256,"n":1},{"m":0.694,"t":0.256,"n":1},{"m":0.719,"t":0.256,"n":1},{"m":0.756,"t":0.256,"n":2},{"m":0.769,"t":0.256,"n":3},{"m":0.781,"t":0.256,"n":3},{"m":0.794,"t":0.256,"n":4},{"m":0.806,"t":0.256,"n":3},{"m":0.819,"t":0.256,"n":2},{"m":0.831,"t":0.256,"n":2},{"m":0.844,"t":0.256,"n":1},{"m":0.856,"t":0.256,"n":1},{"m":0.881,"t":0.256,"n":1},{"m":0.906,"t":0.256,"n":1},
{"m":0.031,"t":0.244,"n":1},{"m":0.044,"t":0.244,"n":1},{"m":0.056,"t":0.244,"n":2},{"m":0.069,"t":0.244,"n":2},{"m":0.081,"t":0.244,"n":3},{"m":0.094,"t":0.244,"n":3},{"m":0.106,"t":0.244,"n":3},{"m":0.119,"t":0.244,"n":4},{"m":0.131,"t":0.244,"n":3},{"m":0.144,"t":0.244,"n":4},{"m":0.156,"t":0.244,"n":2},{"m":0.169,"t":0.244,"n":2},{"m":0.181,"t":0.244,"n":2},{"m":0.194,"t":0.244,"n":2},{"m":0.206,"t":0.244,"n":2},{"m":0.219,"t":0.244,"n":2},{"m":0.231,"t":0.244,"n":1},{"m":0.294,"t":0.244,"n":1},{"m":0.744,"t":0.244,"n":1},{"m":0.756,"t":0.244,"n":2},{"m":0.769,"t":0.244,"n":3},{"m":0.781,"t":0.244,"n":3},{"m":0.794,"t":0.244,"n":4},{"m":0.806,"t":0.244,"n":3},{"m":0.819,"t":0.244,"n":2},{"m":0.831,"t":0.244,"n":1},{"m":0.844,"t":0.244,"n":1},{"m":0.881,"t":0.244,"n":1},
{"m":0.044,"t":0.231,"n":1},{"m":0.056,"t":0.231,"n":1},{"m":0.069,"t":0.231,"n":2},{"m":0.081,"t":0.231,"n":2},{"m":0.094,"t":0.231,"n":2},{"m":0.106,"t":0.231,"n":2},{"m":0.119,"t":0.231,"n":4},{"m":0.131,"t":0.231,"n":4},{"m":0.144,"t":0.231,"n":3},{"m":0.156,"t":0.231,"n":3},{"m":0.169,"t":0.231,"n":4},{"m":0.181,"t":0.231,"n":2},{"m":0.194,"t":0.231,"n":2},{"m":0.206,"t":0.231,"n":2},{"m":0.219,"t":0.231,"n":2},{"m":0.231,"t":0.231,"n":1},{"m":0.256,"t":0.231,"n":1},{"m":0.269,"t":0.231,"n":1},{"m":0.306,"t":0.231,"n":1},{"m":0.744,"t":0.231,"n":1},{"m":0.756,"t":0.231,"n":2},{"m":0.769,"t":0.231,"n":2},{"m":0.781,"t":0.231,"n":3},{"m":0.794,"t":0.231,"n":5},{"m":0.806,"t":0.231,"n":4},{"m":0.819,"t":0.231,"n":2},{"m":0.831,"t":0.231,"n":2},{"m":0.844,"t":0.231,"n":2},{"m":0.856,"t":0.231,"n":1},
{"m":0.031,"t":0.219,"n":1},{"m":0.056,"t":0.219,"n":2},{"m":0.069,"t":0.219,"n":2},{"m":0.081,"t":0.219,"n":2},{"m":0.094,"t":0.219,"n":2},{"m":0.106,"t":0.219,"n":2},{"m":0.119,"t":0.219,"n":2},{"m":0.131,"t":0.219,"n":2},{"m":0.144,"t":0.219,"n":3},{"m":0.156,"t":0.219,"n":3},{"m":0.169,"t":0.219,"n":3},{"m":0.181,"t":0.219,"n":2},{"m":0.194,"t":0.219,"n":2},{"m":0.206,"t":0.219,"n":2},{"m":0.219,"t":0.219,"n":2},{"m":0.231,"t":0.219,"n":2},{"m":0.256,"t":0.219,"n":1},{"m":0.281,"t":0.219,"n":1},{"m":0.294,"t":0.219,"n":1},{"m":0.719,"t":0.219,"n":1},{"m":0.731,"t":0.219,"n":1},{"m":0.744,"t":0.219,"n":2},{"m":0.756,"t":0.219,"n":2},{"m":0.769,"t":0.219,"n":3},{"m":0.781,"t":0.219,"n":3},{"m":0.794,"t":0.219,"n":4},{"m":0.806,"t":0.219,"n":3},{"m":0.819,"t":0.219,"n":3},{"m":0.831,"t":0.219,"n":3},{"m":0.844,"t":0.219,"n":2},{"m":0.869,"t":0.219,"n":1},{"m":0.906,"t":0.219,"n":1},
{"m":0.031,"t":0.206,"n":1},{"m":0.044,"t":0.206,"n":1},{"m":0.056,"t":0.206,"n":2},{"m":0.069,"t":0.206,"n":2},{"m":0.081,"t":0.206,"n":2},{"m":0.094,"t":0.206,"n":2},{"m":0.106,"t":0.206,"n":2},{"m":0.119,"t":0.206,"n":2},{"m":0.131,"t":0.206,"n":4},{"m":0.144,"t":0.206,"n":4},{"m":0.156,"t":0.206,"n":3},{"m":0.169,"t":0.206,"n":3},{"m":0.181,"t":0.206,"n":3},{"m":0.194,"t":0.206,"n":3},{"m":0.206,"t":0.206,"n":2},{"m":0.219,"t":0.206,"n":2},{"m":0.231,"t":0.206,"n":2},{"m":0.256,"t":0.206,"n":1},{"m":0.269,"t":0.206,"n":1},{"m":0.281,"t":0.206,"n":1},{"m":0.344,"t":0.206,"n":1},{"m":0.719,"t":0.206,"n":1},{"m":0.744,"t":0.206,"n":1},{"m":0.756,"t":0.206,"n":3},{"m":0.769,"t":0.206,"n":3},{"m":0.781,"t":0.206,"n":4},{"m":0.794,"t":0.206,"n":4},{"m":0.806,"t":0.206,"n":3},{"m":0.819,"t":0.206,"n":2},{"m":0.831,"t":0.206,"n":2},{"m":0.856,"t":0.206,"n":1},{"m":0.869,"t":0.206,"n":1},
{"m":0.031,"t":0.194,"n":1},{"m":0.044,"t":0.194,"n":2},{"m":0.056,"t":0.194,"n":3},{"m":0.069,"t":0.194,"n":2},{"m":0.081,"t":0.194,"n":2},{"m":0.094,"t":0.194,"n":2},{"m":0.106,"t":0.194,"n":2},{"m":0.119,"t":0.194,"n":2},{"m":0.131,"t":0.194,"n":2},{"m":0.144,"t":0.194,"n":3},{"m":0.156,"t":0.194,"n":3},{"m":0.169,"t":0.194,"n":4},{"m":0.181,"t":0.194,"n":4},{"m":0.194,"t":0.194,"n":4},{"m":0.206,"t":0.194,"n":3},{"m":0.219,"t":0.194,"n":3},{"m":0.231,"t":0.194,"n":2},{"m":0.244,"t":0.194,"n":1},{"m":0.256,"t":0.194,"n":1},{"m":0.269,"t":0.194,"n":1},{"m":0.294,"t":0.194,"n":1},{"m":0.756,"t":0.194,"n":2},{"m":0.769,"t":0.194,"n":2},{"m":0.781,"t":0.194,"n":3},{"m":0.794,"t":0.194,"n":4},{"m":0.806,"t":0.194,"n":2},{"m":0.819,"t":0.194,"n":2},{"m":0.831,"t":0.194,"n":2},{"m":0.844,"t":0.194,"n":1},{"m":0.869,"t":0.194,"n":1},
{"m":0.031,"t":0.181,"n":1},{"m":0.044,"t":0.181,"n":2},{"m":0.056,"t":0.181,"n":2},{"m":0.069,"t":0.181,"n":2},{"m":0.081,"t":0.181,"n":2},{"m":0.094,"t":0.181,"n":2},{"m":0.106,"t":0.181,"n":2},{"m":0.119,"t":0.181,"n":2},{"m":0.131,"t":0.181,"n":2},{"m":0.144,"t":0.181,"n":2},{"m":0.156,"t":0.181,"n":2},{"m":0.169,"t":0.181,"n":4},{"m":0.181,"t":0.181,"n":4},{"m":0.194,"t":0.181,"n":4},{"m":0.206,"t":0.181,"n":3},{"m":0.219,"t":0.181,"n":3},{"m":0.231,"t":0.181,"n":3},{"m":0.244,"t":0.181,"n":2},{"m":0.256,"t":0.181,"n":2},{"m":0.269,"t":0.181,"n":3},{"m":0.306,"t":0.181,"n":1},{"m":0.331,"t":0.181,"n":1},{"m":0.419,"t":0.181,"n":1},{"m":0.481,"t":0.181,"n":1},{"m":0.494,"t":0.181,"n":1},{"m":0.506,"t":0.181,"n":1},{"m":0.556,"t":0.181,"n":1},{"m":0.731,"t":0.181,"n":1},{"m":0.756,"t":0.181,"n":2},{"m":0.769,"t":0.181,"n":2},{"m":0.781,"t":0.181,"n":2},{"m":0.794,"t":0.181,"n":4},{"m":0.806,"t":0.181,"n":3},{"m":0.819,"t":0.181,"n":2},{"m":0.831,"t":0.181,"n":2},{"m":0.869,"t":0.181,"n":1},{"m":0.894,"t":0.181,"n":1},{"m":0.906,"t":0.181,"n":1},{"m":0.931,"t":0.181,"n":1},
{"m":0.044,"t":0.169,"n":1},{"m":0.056,"t":0.169,"n":2},{"m":0.081,"t":0.169,"n":2},{"m":0.094,"t":0.169,"n":2},{"m":0.106,"t":0.169,"n":2},{"m":0.119,"t":0.169,"n":2},{"m":0.131,"t":0.169,"n":2},{"m":0.144,"t":0.169,"n":2},{"m":0.156,"t":0.169,"n":2},{"m":0.169,"t":0.169,"n":2},{"m":0.181,"t":0.169,"n":4},{"m":0.194,"t":0.169,"n":4},{"m":0.206,"t":0.169,"n":3},{"m":0.219,"t":0.169,"n":3},{"m":0.231,"t":0.169,"n":3},{"m":0.244,"t":0.169,"n":3},{"m":0.256,"t":0.169,"n":3},{"m":0.269,"t":0.169,"n":3},{"m":0.281,"t":0.169,"n":2},{"m":0.294,"t":0.169,"n":2},{"m":0.456,"t":0.169,"n":1},{"m":0.469,"t":0.169,"n":1},{"m":0.494,"t":0.169,"n":1},{"m":0.506,"t":0.169,"n":1},{"m":0.531,"t":0.169,"n":1},{"m":0.569,"t":0.169,"n":1},{"m":0.619,"t":0.169,"n":1},{"m":0.744,"t":0.169,"n":1},{"m":0.756,"t":0.169,"n":2},{"m":0.781,"t":0.169,"n":3},{"m":0.794,"t":0.169,"n":4},{"m":0.806,"t":0.169,"n":3},{"m":0.819,"t":0.169,"n":2},{"m":0.831,"t":0.169,"n":2},{"m":0.844,"t":0.169,"n":1},{"m":0.856,"t":0.169,"n":1},
{"m":0.019,"t":0.156,"n":1},{"m":0.031,"t":0.156,"n":1},{"m":0.044,"t":0.156,"n":1},{"m":0.056,"t":0.156,"n":1},{"m":0.069,"t":0.156,"n":1},{"m":0.081,"t":0.156,"n":1},{"m":0.094,"t":0.156,"n":2},{"m":0.106,"t":0.156,"n":2},{"m":0.119,"t":0.156,"n":2},{"m":0.131,"t":0.156,"n":2},{"m":0.144,"t":0.156,"n":3},{"m":0.156,"t":0.156,"n":2},{"m":0.169,"t":0.156,"n":2},{"m":0.181,"t":0.156,"n":3},{"m":0.194,"t":0.156,"n":3},{"m":0.206,"t":0.156,"n":2},{"m":0.219,"t":0.156,"n":2},{"m":0.231,"t":0.156,"n":2},{"m":0.244,"t":0.156,"n":3},{"m":0.256,"t":0.156,"n":3},{"m":0.269,"t":0.156,"n":2},{"m":0.294,"t":0.156,"n":1},{"m":0.319,"t":0.156,"n":1},{"m":0.456,"t":0.156,"n":1},{"m":0.481,"t":0.156,"n":1},{"m":0.506,"t":0.156,"n":1},{"m":0.519,"t":0.156,"n":1},{"m":0.531,"t":0.156,"n":1},{"m":0.544,"t":0.156,"n":1},{"m":0.556,"t":0.156,"n":1},{"m":0.656,"t":0.156,"n":1},{"m":0.731,"t":0.156,"n":1},{"m":0.744,"t":0.156,"n":1},{"m":0.756,"t":0.156,"n":2},{"m":0.769,"t":0.156,"n":2},{"m":0.781,"t":0.156,"n":3},{"m":0.794,"t":0.156,"n":4},{"m":0.806,"t":0.156,"n":3},{"m":0.819,"t":0.156,"n":3},{"m":0.831,"t":0.156,"n":2},{"m":0.844,"t":0.156,"n":2},{"m":0.856,"t":0.156,"n":1},{"m":0.894,"t":0.156,"n":1},{"m":0.906,"t":0.156,"n":1},{"m":0.919,"t":0.156,"n":1},
{"m":0.094,"t":0.144,"n":2},{"m":0.106,"t":0.144,"n":2},{"m":0.119,"t":0.144,"n":2},{"m":0.131,"t":0.144,"n":2},{"m":0.144,"t":0.144,"n":2},{"m":0.156,"t":0.144,"n":2},{"m":0.169,"t":0.144,"n":2},{"m":0.181,"t":0.144,"n":2},{"m":0.194,"t":0.144,"n":2},{"m":0.206,"t":0.144,"n":2},{"m":0.219,"t":0.144,"n":3},{"m":0.231,"t":0.144,"n":2},{"m":0.244,"t":0.144,"n":3},{"m":0.256,"t":0.144,"n":2},{"m":0.269,"t":0.144,"n":4},{"m":0.281,"t":0.144,"n":2},{"m":0.294,"t":0.144,"n":4},{"m":0.306,"t":0.144,"n":2},{"m":0.319,"t":0.144,"n":2},{"m":0.331,"t":0.144,"n":2},{"m":0.344,"t":0.144,"n":1},{"m":0.419,"t":0.144,"n":2},{"m":0.481,"t":0.144,"n":1},{"m":0.494,"t":0.144,"n":1},{"m":0.506,"t":0.144,"n":1},{"m":0.519,"t":0.144,"n":1},{"m":0.556,"t":0.144,"n":1},{"m":0.569,"t":0.144,"n":1},{"m":0.581,"t":0.144,"n":1},{"m":0.594,"t":0.144,"n":1},{"m":0.631,"t":0.144,"n":1},{"m":0.731,"t":0.144,"n":1},{"m":0.744,"t":0.144,"n":1},{"m":0.756,"t":0.144,"n":2},{"m":0.769,"t":0.144,"n":2},{"m":0.781,"t":0.144,"n":2},{"m":0.794,"t":0.144,"n":3},{"m":0.806,"t":0.144,"n":3},{"m":0.819,"t":0.144,"n":2},{"m":0.844,"t":0.144,"n":1},{"m":0.856,"t":0.144,"n":1},{"m":0.869,"t":0.144,"n":1},
{"m":0.056,"t":0.131,"n":1},{"m":0.094,"t":0.131,"n":2},{"m":0.106,"t":0.131,"n":2},{"m":0.119,"t":0.131,"n":2},{"m":0.131,"t":0.131,"n":2},{"m":0.144,"t":0.131,"n":2},{"m":0.156,"t":0.131,"n":2},{"m":0.169,"t":0.131,"n":2},{"m":0.181,"t":0.131,"n":2},{"m":0.194,"t":0.131,"n":2},{"m":0.206,"t":0.131,"n":2},{"m":0.219,"t":0.131,"n":3},{"m":0.231,"t":0.131,"n":2},{"m":0.244,"t":0.131,"n":2},{"m":0.256,"t":0.131,"n":2},{"m":0.269,"t":0.131,"n":2},{"m":0.281,"t":0.131,"n":2},{"m":0.294,"t":0.131,"n":3},{"m":0.306,"t":0.131,"n":2},{"m":0.319,"t":0.131,"n":2},{"m":0.331,"t":0.131,"n":2},{"m":0.344,"t":0.131,"n":1},{"m":0.406,"t":0.131,"n":1},{"m":0.431,"t":0.131,"n":1},{"m":0.444,"t":0.131,"n":2},{"m":0.456,"t":0.131,"n":2},{"m":0.481,"t":0.131,"n":3},{"m":0.494,"t":0.131,"n":3},{"m":0.506,"t":0.131,"n":3},{"m":0.519,"t":0.131,"n":1},{"m":0.531,"t":0.131,"n":1},{"m":0.544,"t":0.131,"n":1},{"m":0.556,"t":0.131,"n":1},{"m":0.581,"t":0.131,"n":1},{"m":0.594,"t":0.131,"n":1},{"m":0.606,"t":0.131,"n":1},{"m":0.631,"t":0.131,"n":1},{"m":0.756,"t":0.131,"n":1},{"m":0.769,"t":0.131,"n":3},{"m":0.781,"t":0.131,"n":2},{"m":0.794,"t":0.131,"n":3},{"m":0.806,"t":0.131,"n":2},{"m":0.819,"t":0.131,"n":3},{"m":0.831,"t":0.131,"n":1},{"m":0.881,"t":0.131,"n":1},
{"m":0.044,"t":0.119,"n":1},{"m":0.144,"t":0.119,"n":2},{"m":0.156,"t":0.119,"n":2},{"m":0.169,"t":0.119,"n":2},{"m":0.181,"t":0.119,"n":2},{"m":0.194,"t":0.119,"n":2},{"m":0.206,"t":0.119,"n":2},{"m":0.219,"t":0.119,"n":2},{"m":0.231,"t":0.119,"n":2},{"m":0.244,"t":0.119,"n":2},{"m":0.256,"t":0.119,"n":2},{"m":0.269,"t":0.119,"n":2},{"m":0.281,"t":0.119,"n":2},{"m":0.294,"t":0.119,"n":2},{"m":0.306,"t":0.119,"n":1},{"m":0.319,"t":0.119,"n":2},{"m":0.331,"t":0.119,"n":2},{"m":0.406,"t":0.119,"n":2},{"m":0.419,"t":0.119,"n":2},{"m":0.431,"t":0.119,"n":3},{"m":0.444,"t":0.119,"n":2},{"m":0.456,"t":0.119,"n":2},{"m":0.469,"t":0.119,"n":2},{"m":0.481,"t":0.119,"n":2},{"m":0.494,"t":0.119,"n":2},{"m":0.506,"t":0.119,"n":3},{"m":0.519,"t":0.119,"n":3},{"m":0.531,"t":0.119,"n":2},{"m":0.544,"t":0.119,"n":2},{"m":0.556,"t":0.119,"n":2},{"m":0.569,"t":0.119,"n":2},{"m":0.581,"t":0.119,"n":2},{"m":0.594,"t":0.119,"n":2},{"m":0.606,"t":0.119,"n":2},{"m":0.631,"t":0.119,"n":1},{"m":0.656,"t":0.119,"n":1},{"m":0.681,"t":0.119,"n":1},{"m":0.694,"t":0.119,"n":1},{"m":0.756,"t":0.119,"n":1},{"m":0.769,"t":0.119,"n":2},{"m":0.781,"t":0.119,"n":3},{"m":0.794,"t":0.119,"n":3},{"m":0.806,"t":0.119,"n":2},{"m":0.819,"t":0.119,"n":1},{"m":0.831,"t":0.119,"n":1},{"m":0.881,"t":0.119,"n":1},{"m":0.906,"t":0.119,"n":1},
{"m":0.044,"t":0.106,"n":1},{"m":0.056,"t":0.106,"n":1},{"m":0.119,"t":0.106,"n":1},{"m":0.131,"t":0.106,"n":1},{"m":0.169,"t":0.106,"n":1},{"m":0.181,"t":0.106,"n":2},{"m":0.194,"t":0.106,"n":1},{"m":0.206,"t":0.106,"n":1},{"m":0.219,"t":0.106,"n":2},{"m":0.231,"t":0.106,"n":1},{"m":0.244,"t":0.106,"n":1},{"m":0.269,"t":0.106,"n":1},{"m":0.281,"t":0.106,"n":1},{"m":0.294,"t":0.106,"n":1},{"m":0.306,"t":0.106,"n":1},{"m":0.319,"t":0.106,"n":1},{"m":0.344,"t":0.106,"n":1},{"m":0.419,"t":0.106,"n":2},{"m":0.431,"t":0.106,"n":3},{"m":0.444,"t":0.106,"n":3},{"m":0.456,"t":0.106,"n":2},{"m":0.469,"t":0.106,"n":2},{"m":0.481,"t":0.106,"n":4},{"m":0.494,"t":0.106,"n":3},{"m":0.506,"t":0.106,"n":4},{"m":0.519,"t":0.106,"n":4},{"m":0.531,"t":0.106,"n":4},{"m":0.544,"t":0.106,"n":4},{"m":0.556,"t":0.106,"n":4},{"m":0.569,"t":0.106,"n":3},{"m":0.581,"t":0.106,"n":2},{"m":0.594,"t":0.106,"n":2},{"m":0.606,"t":0.106,"n":2},{"m":0.631,"t":0.106,"n":1},{"m":0.644,"t":0.106,"n":1},{"m":0.656,"t":0.106,"n":2},{"m":0.681,"t":0.106,"n":1},{"m":0.694,"t":0.106,"n":1},{"m":0.719,"t":0.106,"n":1},{"m":0.756,"t":0.106,"n":1},{"m":0.769,"t":0.106,"n":1},{"m":0.781,"t":0.106,"n":2},{"m":0.794,"t":0.106,"n":2},{"m":0.806,"t":0.106,"n":2},{"m":0.831,"t":0.106,"n":1},{"m":0.856,"t":0.106,"n":1},
{"m":0.119,"t":0.094,"n":1},{"m":0.144,"t":0.094,"n":1},{"m":0.181,"t":0.094,"n":1},{"m":0.219,"t":0.094,"n":1},{"m":0.256,"t":0.094,"n":1},{"m":0.281,"t":0.094,"n":1},{"m":0.394,"t":0.094,"n":1},{"m":0.406,"t":0.094,"n":2},{"m":0.419,"t":0.094,"n":1},{"m":0.444,"t":0.094,"n":2},{"m":0.456,"t":0.094,"n":2},{"m":0.469,"t":0.094,"n":4},{"m":0.481,"t":0.094,"n":2},{"m":0.494,"t":0.094,"n":3},{"m":0.506,"t":0.094,"n":3},{"m":0.519,"t":0.094,"n":4},{"m":0.531,"t":0.094,"n":4},{"m":0.544,"t":0.094,"n":4},{"m":0.556,"t":0.094,"n":4},{"m":0.569,"t":0.094,"n":4},{"m":0.581,"t":0.094,"n":4},{"m":0.594,"t":0.094,"n":4},{"m":0.606,"t":0.094,"n":4},{"m":0.619,"t":0.094,"n":3},{"m":0.631,"t":0.094,"n":3},{"m":0.644,"t":0.094,"n":2},{"m":0.656,"t":0.094,"n":2},{"m":0.669,"t":0.094,"n":2},{"m":0.681,"t":0.094,"n":2},{"m":0.694,"t":0.094,"n":2},{"m":0.731,"t":0.094,"n":1},{"m":0.756,"t":0.094,"n":1},{"m":0.769,"t":0.094,"n":2},{"m":0.781,"t":0.094,"n":2},{"m":0.794,"t":0.094,"n":2},{"m":0.806,"t":0.094,"n":2},{"m":0.819,"t":0.094,"n":1},{"m":0.869,"t":0.094,"n":1},{"m":0.881,"t":0.094,"n":1},{"m":0.894,"t":0.094,"n":1},
{"m":0.056,"t":0.081,"n":1},{"m":0.094,"t":0.081,"n":1},{"m":0.106,"t":0.081,"n":1},{"m":0.181,"t":0.081,"n":1},{"m":0.206,"t":0.081,"n":1},{"m":0.219,"t":0.081,"n":1},{"m":0.256,"t":0.081,"n":1},{"m":0.281,"t":0.081,"n":1},{"m":0.381,"t":0.081,"n":1},{"m":0.406,"t":0.081,"n":2},{"m":0.431,"t":0.081,"n":2},{"m":0.444,"t":0.081,"n":2},{"m":0.456,"t":0.081,"n":2},{"m":0.469,"t":0.081,"n":2},{"m":0.481,"t":0.081,"n":2},{"m":0.494,"t":0.081,"n":2},{"m":0.506,"t":0.081,"n":3},{"m":0.519,"t":0.081,"n":3},{"m":0.531,"t":0.081,"n":4},{"m":0.544,"t":0.081,"n":4},{"m":0.556,"t":0.081,"n":4},{"m":0.569,"t":0.081,"n":4},{"m":0.581,"t":0.081,"n":4},{"m":0.594,"t":0.081,"n":4},{"m":0.606,"t":0.081,"n":4},{"m":0.619,"t":0.081,"n":4},{"m":0.631,"t":0.081,"n":4},{"m":0.644,"t":0.081,"n":3},{"m":0.656,"t":0.081,"n":3},{"m":0.669,"t":0.081,"n":3},{"m":0.681,"t":0.081,"n":3},{"m":0.694,"t":0.081,"n":2},{"m":0.719,"t":0.081,"n":1},{"m":0.744,"t":0.081,"n":1},{"m":0.756,"t":0.081,"n":1},{"m":0.781,"t":0.081,"n":1},{"m":0.794,"t":0.081,"n":2},{"m":0.806,"t":0.081,"n":1},{"m":0.819,"t":0.081,"n":1},{"m":0.831,"t":0.081,"n":1},{"m":0.844,"t":0.081,"n":1},
{"m":0.069,"t":0.069,"n":1},{"m":0.094,"t":0.069,"n":1},{"m":0.106,"t":0.069,"n":1},{"m":0.181,"t":0.069,"n":1},{"m":0.244,"t":0.069,"n":1},{"m":0.256,"t":0.069,"n":1},{"m":0.419,"t":0.069,"n":2},{"m":0.444,"t":0.069,"n":2},{"m":0.469,"t":0.069,"n":2},{"m":0.481,"t":0.069,"n":2},{"m":0.494,"t":0.069,"n":2},{"m":0.506,"t":0.069,"n":2},{"m":0.519,"t":0.069,"n":2},{"m":0.531,"t":0.069,"n":2},{"m":0.544,"t":0.069,"n":2},{"m":0.556,"t":0.069,"n":2},{"m":0.569,"t":0.069,"n":2},{"m":0.581,"t":0.069,"n":3},{"m":0.594,"t":0.069,"n":3},{"m":0.606,"t":0.069,"n":3},{"m":0.619,"t":0.069,"n":3},{"m":0.631,"t":0.069,"n":3},{"m":0.644,"t":0.069,"n":3},{"m":0.656,"t":0.069,"n":4},{"m":0.669,"t":0.069,"n":4},{"m":0.681,"t":0.069,"n":4},{"m":0.694,"t":0.069,"n":4},{"m":0.706,"t":0.069,"n":3},{"m":0.719,"t":0.069,"n":2},{"m":0.731,"t":0.069,"n":2},{"m":0.769,"t":0.069,"n":1},{"m":0.781,"t":0.069,"n":1},{"m":0.794,"t":0.069,"n":2},{"m":0.806,"t":0.069,"n":1},{"m":0.831,"t":0.069,"n":1},{"m":0.869,"t":0.069,"n":1},
{"m":0.031,"t":0.056,"n":1},{"m":0.094,"t":0.056,"n":1},{"m":0.106,"t":0.056,"n":1},{"m":0.219,"t":0.056,"n":1},{"m":0.244,"t":0.056,"n":1},{"m":0.456,"t":0.056,"n":1},{"m":0.494,"t":0.056,"n":2},{"m":0.506,"t":0.056,"n":2},{"m":0.519,"t":0.056,"n":2},{"m":0.531,"t":0.056,"n":2},{"m":0.544,"t":0.056,"n":2},{"m":0.556,"t":0.056,"n":2},{"m":0.569,"t":0.056,"n":2},{"m":0.581,"t":0.056,"n":2},{"m":0.594,"t":0.056,"n":3},{"m":0.606,"t":0.056,"n":3},{"m":0.619,"t":0.056,"n":3},{"m":0.631,"t":0.056,"n":3},{"m":0.644,"t":0.056,"n":3},{"m":0.656,"t":0.056,"n":3},{"m":0.669,"t":0.056,"n":3},{"m":0.681,"t":0.056,"n":4},{"m":0.694,"t":0.056,"n":4},{"m":0.706,"t":0.056,"n":4},{"m":0.719,"t":0.056,"n":4},{"m":0.731,"t":0.056,"n":3},{"m":0.744,"t":0.056,"n":2},{"m":0.769,"t":0.056,"n":1},{"m":0.794,"t":0.056,"n":1},{"m":0.806,"t":0.056,"n":1},{"m":0.819,"t":0.056,"n":1},{"m":0.844,"t":0.056,"n":1},{"m":0.881,"t":0.056,"n":1},{"m":0.944,"t":0.056,"n":1},
{"m":0.031,"t":0.044,"n":1},{"m":0.044,"t":0.044,"n":1},{"m":0.081,"t":0.044,"n":1},{"m":0.144,"t":0.044,"n":1},{"m":0.244,"t":0.044,"n":1},{"m":0.256,"t":0.044,"n":1},{"m":0.331,"t":0.044,"n":1},{"m":0.406,"t":0.044,"n":1},{"m":0.494,"t":0.044,"n":2},{"m":0.544,"t":0.044,"n":2},{"m":0.556,"t":0.044,"n":2},{"m":0.569,"t":0.044,"n":2},{"m":0.581,"t":0.044,"n":2},{"m":0.594,"t":0.044,"n":2},{"m":0.606,"t":0.044,"n":2},{"m":0.619,"t":0.044,"n":2},{"m":0.631,"t":0.044,"n":2},{"m":0.644,"t":0.044,"n":2},{"m":0.656,"t":0.044,"n":2},{"m":0.669,"t":0.044,"n":2},{"m":0.681,"t":0.044,"n":2},{"m":0.694,"t":0.044,"n":3},{"m":0.706,"t":0.044,"n":3},{"m":0.719,"t":0.044,"n":3},{"m":0.731,"t":0.044,"n":3},{"m":0.744,"t":0.044,"n":2},{"m":0.756,"t":0.044,"n":2},{"m":0.794,"t":0.044,"n":1},{"m":0.819,"t":0.044,"n":1},{"m":0.869,"t":0.044,"n":1},{"m":0.906,"t":0.044,"n":1},
{"m":0.106,"t":0.031,"n":1},{"m":0.231,"t":0.031,"n":1},{"m":0.244,"t":0.031,"n":1},{"m":0.256,"t":0.031,"n":1},{"m":0.381,"t":0.031,"n":1},{"m":0.494,"t":0.031,"n":1},{"m":0.519,"t":0.031,"n":1},{"m":0.556,"t":0.031,"n":1},{"m":0.594,"t":0.031,"n":1},{"m":0.606,"t":0.031,"n":1},{"m":0.631,"t":0.031,"n":1},{"m":0.656,"t":0.031,"n":1},{"m":0.669,"t":0.031,"n":2},{"m":0.681,"t":0.031,"n":2},{"m":0.694,"t":0.031,"n":2},{"m":0.706,"t":0.031,"n":2},{"m":0.719,"t":0.031,"n":2},{"m":0.731,"t":0.031,"n":2},{"m":0.744,"t":0.031,"n":2},{"m":0.756,"t":0.031,"n":2},{"m":0.806,"t":0.031,"n":1},{"m":0.819,"t":0.031,"n":1},
{"m":0.131,"t":0.019,"n":1},{"m":0.219,"t":0.019,"n":1},{"m":0.294,"t":0.019,"n":1},{"m":0.556,"t":0.019,"n":1},{"m":0.581,"t":0.019,"n":1},{"m":0.631,"t":0.019,"n":1},{"m":0.656,"t":0.019,"n":1},{"m":0.669,"t":0.019,"n":1},{"m":0.681,"t":0.019,"n":1},{"m":0.694,"t":0.019,"n":1},{"m":0.706,"t":0.019,"n":2},{"m":0.719,"t":0.019,"n":2},{"m":0.731,"t":0.019,"n":3},{"m":0.744,"t":0.019,"n":2},{"m":0.756,"t":0.019,"n":1},{"m":0.781,"t":0.019,"n":1},{"m":0.806,"t":0.019,"n":1},{"m":0.831,"t":0.019,"n":1},{"m":0.906,"t":0.019,"n":1},
{"m":0.269,"t":0.006,"n":1},{"m":0.469,"t":0.006,"n":1},{"m":0.594,"t":0.006,"n":1},{"m":0.669,"t":0.006,"n":1},{"m":0.681,"t":0.006,"n":1},{"m":0.694,"t":0.006,"n":1},{"m":0.706,"t":0.006,"n":1},{"m":0.719,"t":0.006,"n":1},{"m":0.731,"t":0.006,"n":1},{"m":0.744,"t":0.006,"n":1},{"m":0.756,"t":0.006,"n":1}
]},
"mark":{"type":"point","shape":"square","filled":false,"stroke":"#0000dd","strokeWidth":1.4,"opacity":1},
"encoding":{"x":{"field":"m","type":"quantitative","scale":{"domain":[0,1],"nice":false},"axis":{"orient":"bottom","values":[0,0.2,0.4,0.6,0.8,1],"labels":true,"labelFontSize":21.5,"labelColor":"black","labelPadding":20.5,"tickSize":-13,"tickWidth":1.5,"labelFlush":false,"format":"~g","title":"m'","titleFontSize":22,"titleFontWeight":"normal","titleColor":"black","titlePadding":24}},
"y":{"field":"t","type":"quantitative","scale":{"domain":[0,1],"nice":false},"axis":{"orient":"left","values":[0,0.2,0.4,0.6,0.8,1],"labels":true,"labelFontSize":21.5,"labelColor":"black","labelPadding":24,"tickSize":-13,"tickWidth":1.5,"format":"~g","title":"θ'","titleFontSize":22,"titleFontWeight":"normal","titleColor":"black","titlePadding":10}},
"size":{"field":"n","type":"quantitative","legend":null,"scale":{"domain":[1,2,3,4,5],"range":[2,5,9,17,27]}}}},
{"data":{"values":[
{"m":0.0135,"t":0.957,"m2":0.0425,"t2":0.986},{"m":0.0135,"t":0.921,"m2":0.0485,"t2":0.956},{"m":0.0135,"t":0.885,"m2":0.0525,"t2":0.924},{"m":0.0135,"t":0.849,"m2":0.0585,"t2":0.894},{"m":0.0135,"t":0.813,"m2":0.0635,"t2":0.863},{"m":0.0135,"t":0.777,"m2":0.0675,"t2":0.831},{"m":0.0135,"t":0.741,"m2":0.0725,"t2":0.8},{"m":0.0135,"t":0.705,"m2":0.0765,"t2":0.768},{"m":0.0135,"t":0.669,"m2":0.0815,"t2":0.737},{"m":0.0135,"t":0.633,"m2":0.0855,"t2":0.705},{"m":0.0135,"t":0.597,"m2":0.0905,"t2":0.674},{"m":0.0135,"t":0.561,"m2":0.0935,"t2":0.641},{"m":0.0135,"t":0.525,"m2":0.0975,"t2":0.609},{"m":0.0135,"t":0.489,"m2":0.0975,"t2":0.573},{"m":0.0135,"t":0.453,"m2":0.0975,"t2":0.537},{"m":0.0135,"t":0.417,"m2":0.0995,"t2":0.503},{"m":0.0135,"t":0.381,"m2":0.0995,"t2":0.467},{"m":0.0135,"t":0.3375,"m2":0.0995,"t2":0.4235},{"m":0.0135,"t":0.3015,"m2":0.0935,"t2":0.3815},{"m":0.0135,"t":0.2655,"m2":0.0905,"t2":0.3425},{"m":0.0135,"t":0.2295,"m2":0.0865,"t2":0.3025},{"m":0.0135,"t":0.1935,"m2":0.0815,"t2":0.2615},{"m":0.0135,"t":0.1575,"m2":0.0735,"t2":0.2175},{"m":0.0135,"t":0.1215,"m2":0.0695,"t2":0.1775},{"m":0.0135,"t":0.0855,"m2":0.0625,"t2":0.1345},{"m":0.0135,"t":0.0495,"m2":0.0565,"t2":0.0925},
{"m":0.703,"t":0.953,"m2":0.731,"t2":0.983},{"m":0.703,"t":0.917,"m2":0.768,"t2":0.983},{"m":0.703,"t":0.881,"m2":0.803,"t2":0.981},{"m":0.727,"t":0.871,"m2":0.812,"t2":0.957},
{"m":0.701,"t":0.12,"m2":0.709,"t2":0.128},{"m":0.703,"t":0.084,"m2":0.745,"t2":0.127},{"m":0.703,"t":0.047,"m2":0.77,"t2":0.115},{"m":0.705,"t":0.015,"m2":0.789,"t2":0.098},{"m":0.742,"t":0.015,"m2":0.804,"t2":0.079},{"m":0.776,"t":0.015,"m2":0.814,"t2":0.051}
]},
"mark":{"type":"rule","stroke":"#8b2020","strokeWidth":1,"opacity":0.9},
"encoding":{"x":{"field":"m","type":"quantitative","axis":{"orient":"bottom","values":[0.05,0.1,0.15,0.25,0.3,0.35,0.45,0.5,0.55,0.65,0.7,0.75,0.85,0.9,0.95],"tickSize":-6.5}},"y":{"field":"t","type":"quantitative","axis":{"orient":"left","values":[0.05,0.1,0.15,0.25,0.3,0.35,0.45,0.5,0.55,0.65,0.7,0.75,0.85,0.9,0.95],"tickSize":-6.5}},"x2":{"field":"m2"},"y2":{"field":"t2"}}},
{"data":{"values":[
{"c":"a","m":0.0916,"t":1},{"c":"a","m":0.0946,"t":0.9},{"c":"a","m":0.1,"t":0.8},{"c":"a","m":0.11,"t":0.736},{"c":"a","m":0.122,"t":0.66},{"c":"a","m":0.127,"t":0.62},
{"c":"b","m":0.091,"t":0},{"c":"b","m":0.0946,"t":0.083},{"c":"b","m":0.102,"t":0.21},{"c":"b","m":0.112,"t":0.3},{"c":"b","m":0.121,"t":0.36},{"c":"b","m":0.128,"t":0.383},
{"c":"c","m":0.666,"t":1},{"c":"c","m":0.666,"t":0.86},
{"c":"d","m":0.666,"t":0.153},{"c":"d","m":0.666,"t":0},
{"c":"e","m":0.667,"t":0.818},{"c":"e","m":0.698,"t":0.822},{"c":"e","m":0.736,"t":0.831},{"c":"e","m":0.775,"t":0.849},{"c":"e","m":0.811,"t":0.874},{"c":"e","m":0.833,"t":0.909},{"c":"e","m":0.849,"t":0.946},{"c":"e","m":0.858,"t":0.994},{"c":"e","m":0.859,"t":1},
{"c":"f","m":0.667,"t":0.185},{"c":"f","m":0.707,"t":0.174},{"c":"f","m":0.736,"t":0.169},{"c":"f","m":0.775,"t":0.158},{"c":"f","m":0.811,"t":0.133},{"c":"f","m":0.833,"t":0.101},{"c":"f","m":0.849,"t":0.056},{"c":"f","m":0.858,"t":0.004},{"c":"f","m":0.859,"t":0}
]},
"mark":{"type":"line","stroke":"#8b0000","strokeWidth":2,"interpolate":"basis"},
"encoding":{"detail":{"field":"c"},"order":{"field":"m"},"x":{"field":"m","type":"quantitative","axis":{"orient":"top","values":[0,0.2,0.4,0.6,0.8,1],"tickSize":-13,"tickWidth":1.5}},"y":{"field":"t","type":"quantitative","axis":{"orient":"right","values":[0,0.2,0.4,0.6,0.8,1],"tickSize":-13,"tickWidth":1.5}}}},
{"data":{"values":[
{"c":"a","m":0.127,"t":0.62},{"c":"a","m":0.162,"t":0.5},{"c":"a","m":0.188,"t":0.44},{"c":"a","m":0.248,"t":0.35},{"c":"a","m":0.309,"t":0.289},{"c":"a","m":0.369,"t":0.255},{"c":"a","m":0.444,"t":0.221},{"c":"a","m":0.511,"t":0.207},{"c":"a","m":0.586,"t":0.196},{"c":"a","m":0.667,"t":0.185},
{"c":"b","m":0.128,"t":0.383},{"c":"b","m":0.162,"t":0.5},{"c":"b","m":0.192,"t":0.568},{"c":"b","m":0.248,"t":0.658},{"c":"b","m":0.309,"t":0.714},{"c":"b","m":0.369,"t":0.748},{"c":"b","m":0.444,"t":0.777},{"c":"b","m":0.511,"t":0.793},{"c":"b","m":0.586,"t":0.806},{"c":"b","m":0.667,"t":0.818},
{"c":"c","m":0.666,"t":0.86},{"c":"c","m":0.666,"t":0.153}
]},
"mark":{"type":"line","stroke":"#8b0000","strokeWidth":1.6,"strokeDash":[4,3],"interpolate":"basis"},
"encoding":{"detail":{"field":"c"},"order":{"field":"m"},"x":{"field":"m","type":"quantitative","axis":{"orient":"top","values":[0.05,0.1,0.15,0.25,0.3,0.35,0.45,0.5,0.55,0.65,0.7,0.75,0.85,0.9,0.95],"tickSize":-6.5}},"y":{"field":"t","type":"quantitative","axis":{"orient":"right","values":[0.05,0.1,0.15,0.25,0.3,0.35,0.45,0.5,0.55,0.65,0.7,0.75,0.85,0.9,0.95],"tickSize":-6.5}}}},
{"data":{"values":[{"m":0,"t":0,"m2":1,"t2":1}]},"mark":{"type":"rect","fill":null,"stroke":"black","strokeWidth":2},"encoding":{"x":{"field":"m","type":"quantitative","axis":null},"y":{"field":"t","type":"quantitative","axis":null},"x2":{"field":"m2"},"y2":{"field":"t2"}}},
{"data":{"values":[{"m":0.106,"t":0.93,"m2":0.489,"t2":0.982}]},"mark":{"type":"rect","fill":"white"},"encoding":{"x":{"field":"m","type":"quantitative","axis":null},"y":{"field":"t","type":"quantitative","axis":null},"x2":{"field":"m2"},"y2":{"field":"t2"}}},
{"data":{"values":[{"m":0.122,"t":0.934,"m2":0.162,"t2":0.975}]},"mark":{"type":"rect","fillOpacity":0,"stroke":"#8b0000","strokeWidth":1.5},"encoding":{"x":{"field":"m","type":"quantitative","axis":null},"y":{"field":"t","type":"quantitative","axis":null},"x2":{"field":"m2"},"y2":{"field":"t2"}}},
{"data":{"values":[{"m":0.122,"t":0.934,"m2":0.162,"t2":0.975},{"m":0.136,"t":0.934,"m2":0.162,"t2":0.96},{"m":0.122,"t":0.949,"m2":0.148,"t2":0.975},{"m":0.122,"t":0.963,"m2":0.134,"t2":0.975},{"m":0.15,"t":0.934,"m2":0.162,"t2":0.946}]},"mark":{"type":"rule","stroke":"#8b2020","strokeWidth":1},"encoding":{"x":{"field":"m","type":"quantitative","axis":null},"y":{"field":"t","type":"quantitative","axis":null},"x2":{"field":"m2"},"y2":{"field":"t2"}}},
{"data":{"values":[{"m":0.189,"t":0.957,"s":"Interference"}]},"mark":{"type":"text","align":"left","baseline":"middle","font":"Liberation Sans","fontSize":24.7,"color":"black"},"encoding":{"x":{"field":"m","type":"quantitative","axis":null},"y":{"field":"t","type":"quantitative","axis":null},"text":{"field":"s"}}}
]}
